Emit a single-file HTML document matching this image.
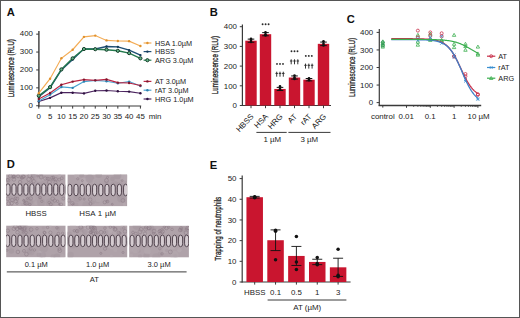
<!DOCTYPE html>
<html><head><meta charset="utf-8"><style>
html,body{margin:0;padding:0;background:#fff;}
#f{position:relative;width:520px;height:318px;overflow:hidden;background:#fff;}
svg{position:absolute;left:0;top:0;font-family:"Liberation Sans", sans-serif;}
</style></head><body><div id="f">
<svg width="520" height="318" viewBox="0 0 520 318" font-family='"Liberation Sans", sans-serif'>
<rect x="0.5" y="0.5" width="519" height="317" fill="#fff" stroke="#555" stroke-width="1"/>
<text x="6.80" y="15.80" font-size="11.2" text-anchor="start" font-weight="bold" fill="#111" >A</text>
<line x1="38.90" y1="30.90" x2="38.90" y2="106.40" stroke="#3a3a3a" stroke-width="1.4"/>
<line x1="38.00" y1="106.00" x2="141.20" y2="106.00" stroke="#3a3a3a" stroke-width="1.2"/>
<line x1="36.20" y1="105.75" x2="38.90" y2="105.75" stroke="#3a3a3a" stroke-width="1.0"/>
<text x="33.00" y="108.05" font-size="7.9" text-anchor="end" font-weight="normal" fill="#222" >0</text>
<line x1="36.20" y1="87.85" x2="38.90" y2="87.85" stroke="#3a3a3a" stroke-width="1.0"/>
<text x="33.00" y="90.15" font-size="7.9" text-anchor="end" font-weight="normal" fill="#222" >100</text>
<line x1="36.20" y1="69.95" x2="38.90" y2="69.95" stroke="#3a3a3a" stroke-width="1.0"/>
<text x="33.00" y="72.25" font-size="7.9" text-anchor="end" font-weight="normal" fill="#222" >200</text>
<line x1="36.20" y1="52.05" x2="38.90" y2="52.05" stroke="#3a3a3a" stroke-width="1.0"/>
<text x="33.00" y="54.35" font-size="7.9" text-anchor="end" font-weight="normal" fill="#222" >300</text>
<line x1="36.20" y1="34.15" x2="38.90" y2="34.15" stroke="#3a3a3a" stroke-width="1.0"/>
<text x="33.00" y="36.45" font-size="7.9" text-anchor="end" font-weight="normal" fill="#222" >400</text>
<line x1="38.80" y1="106.00" x2="38.80" y2="108.60" stroke="#3a3a3a" stroke-width="1.0"/>
<text x="38.80" y="119.20" font-size="7.9" text-anchor="middle" font-weight="normal" fill="#222" >0</text>
<line x1="50.09" y1="106.00" x2="50.09" y2="108.60" stroke="#3a3a3a" stroke-width="1.0"/>
<text x="50.09" y="119.20" font-size="7.9" text-anchor="middle" font-weight="normal" fill="#222" >5</text>
<line x1="61.38" y1="106.00" x2="61.38" y2="108.60" stroke="#3a3a3a" stroke-width="1.0"/>
<text x="61.38" y="119.20" font-size="7.9" text-anchor="middle" font-weight="normal" fill="#222" >10</text>
<line x1="72.67" y1="106.00" x2="72.67" y2="108.60" stroke="#3a3a3a" stroke-width="1.0"/>
<text x="72.67" y="119.20" font-size="7.9" text-anchor="middle" font-weight="normal" fill="#222" >15</text>
<line x1="83.96" y1="106.00" x2="83.96" y2="108.60" stroke="#3a3a3a" stroke-width="1.0"/>
<text x="83.96" y="119.20" font-size="7.9" text-anchor="middle" font-weight="normal" fill="#222" >20</text>
<line x1="95.25" y1="106.00" x2="95.25" y2="108.60" stroke="#3a3a3a" stroke-width="1.0"/>
<text x="95.25" y="119.20" font-size="7.9" text-anchor="middle" font-weight="normal" fill="#222" >25</text>
<line x1="106.54" y1="106.00" x2="106.54" y2="108.60" stroke="#3a3a3a" stroke-width="1.0"/>
<text x="106.54" y="119.20" font-size="7.9" text-anchor="middle" font-weight="normal" fill="#222" >30</text>
<line x1="117.83" y1="106.00" x2="117.83" y2="108.60" stroke="#3a3a3a" stroke-width="1.0"/>
<text x="117.83" y="119.20" font-size="7.9" text-anchor="middle" font-weight="normal" fill="#222" >35</text>
<line x1="129.12" y1="106.00" x2="129.12" y2="108.60" stroke="#3a3a3a" stroke-width="1.0"/>
<text x="129.12" y="119.20" font-size="7.9" text-anchor="middle" font-weight="normal" fill="#222" >40</text>
<line x1="140.41" y1="106.00" x2="140.41" y2="108.60" stroke="#3a3a3a" stroke-width="1.0"/>
<text x="140.41" y="119.20" font-size="7.9" text-anchor="middle" font-weight="normal" fill="#222" >45</text>
<text x="148.80" y="119.20" font-size="7.9" text-anchor="start" font-weight="normal" fill="#222" >min</text>
<text transform="translate(14.2,68.2) rotate(-90) scale(0.74,1)" font-size="8.4" stroke="#222" stroke-width="0.28" text-anchor="middle" fill="#222">Luminescence (RLU)</text>
<polyline points="38.80,101.45 50.09,97.87 61.38,92.68 72.67,92.68 83.96,93.40 95.25,90.71 106.54,90.53 117.83,91.25 129.12,91.61 140.41,93.22" fill="none" stroke="#4C2560" stroke-width="1.15"/>
<circle cx="38.80" cy="101.45" r="1.2" fill="#2E1040"/>
<circle cx="50.09" cy="97.87" r="1.2" fill="#2E1040"/>
<circle cx="61.38" cy="92.68" r="1.2" fill="#2E1040"/>
<circle cx="72.67" cy="92.68" r="1.2" fill="#2E1040"/>
<circle cx="83.96" cy="93.40" r="1.2" fill="#2E1040"/>
<circle cx="95.25" cy="90.71" r="1.2" fill="#2E1040"/>
<circle cx="106.54" cy="90.53" r="1.2" fill="#2E1040"/>
<circle cx="117.83" cy="91.25" r="1.2" fill="#2E1040"/>
<circle cx="129.12" cy="91.61" r="1.2" fill="#2E1040"/>
<circle cx="140.41" cy="93.22" r="1.2" fill="#2E1040"/>
<polyline points="38.80,101.10 50.09,94.65 61.38,86.95 72.67,87.85 83.96,81.59 95.25,80.33 106.54,81.23 117.83,83.20 129.12,81.59 140.41,86.06" fill="none" stroke="#4AA4D2" stroke-width="1.15"/>
<circle cx="38.80" cy="101.10" r="1.2" fill="#2E80AE"/>
<circle cx="50.09" cy="94.65" r="1.2" fill="#2E80AE"/>
<circle cx="61.38" cy="86.95" r="1.2" fill="#2E80AE"/>
<circle cx="72.67" cy="87.85" r="1.2" fill="#2E80AE"/>
<circle cx="83.96" cy="81.59" r="1.2" fill="#2E80AE"/>
<circle cx="95.25" cy="80.33" r="1.2" fill="#2E80AE"/>
<circle cx="106.54" cy="81.23" r="1.2" fill="#2E80AE"/>
<circle cx="117.83" cy="83.20" r="1.2" fill="#2E80AE"/>
<circle cx="129.12" cy="81.59" r="1.2" fill="#2E80AE"/>
<circle cx="140.41" cy="86.06" r="1.2" fill="#2E80AE"/>
<polyline points="38.80,98.95 50.09,93.04 61.38,84.81 72.67,81.59 83.96,79.62 95.25,80.33 106.54,79.44 117.83,82.66 129.12,83.02 140.41,85.52" fill="none" stroke="#BA2442" stroke-width="1.15"/>
<circle cx="38.80" cy="98.95" r="1.2" fill="#80162C"/>
<circle cx="50.09" cy="93.04" r="1.2" fill="#80162C"/>
<circle cx="61.38" cy="84.81" r="1.2" fill="#80162C"/>
<circle cx="72.67" cy="81.59" r="1.2" fill="#80162C"/>
<circle cx="83.96" cy="79.62" r="1.2" fill="#80162C"/>
<circle cx="95.25" cy="80.33" r="1.2" fill="#80162C"/>
<circle cx="106.54" cy="79.44" r="1.2" fill="#80162C"/>
<circle cx="117.83" cy="82.66" r="1.2" fill="#80162C"/>
<circle cx="129.12" cy="83.02" r="1.2" fill="#80162C"/>
<circle cx="140.41" cy="85.52" r="1.2" fill="#80162C"/>
<polyline points="38.80,96.80 50.09,87.85 61.38,69.95 72.67,59.57 83.96,48.83 95.25,49.01 106.54,46.50 117.83,46.86 129.12,50.08 140.41,55.09" fill="none" stroke="#1D4E74" stroke-width="1.4"/>
<circle cx="38.80" cy="96.80" r="1.2" fill="#123A5A"/>
<circle cx="50.09" cy="87.85" r="1.2" fill="#123A5A"/>
<circle cx="61.38" cy="69.95" r="1.2" fill="#123A5A"/>
<circle cx="72.67" cy="59.57" r="1.2" fill="#123A5A"/>
<circle cx="83.96" cy="48.83" r="1.2" fill="#123A5A"/>
<circle cx="95.25" cy="49.01" r="1.2" fill="#123A5A"/>
<circle cx="106.54" cy="46.50" r="1.2" fill="#123A5A"/>
<circle cx="117.83" cy="46.86" r="1.2" fill="#123A5A"/>
<circle cx="129.12" cy="50.08" r="1.2" fill="#123A5A"/>
<circle cx="140.41" cy="55.09" r="1.2" fill="#123A5A"/>
<polyline points="38.80,95.73 50.09,87.13 61.38,69.41 72.67,58.32 83.96,49.01 95.25,49.19 106.54,49.72 117.83,50.80 129.12,53.12 140.41,58.32" fill="none" stroke="#23794D" stroke-width="1.4"/>
<circle cx="38.80" cy="95.73" r="1.6" fill="#62B487" stroke="#173D2A" stroke-width="1.0"/>
<circle cx="50.09" cy="87.13" r="1.6" fill="#62B487" stroke="#173D2A" stroke-width="1.0"/>
<circle cx="61.38" cy="69.41" r="1.6" fill="#62B487" stroke="#173D2A" stroke-width="1.0"/>
<circle cx="72.67" cy="58.32" r="1.6" fill="#62B487" stroke="#173D2A" stroke-width="1.0"/>
<circle cx="83.96" cy="49.01" r="1.6" fill="#62B487" stroke="#173D2A" stroke-width="1.0"/>
<circle cx="95.25" cy="49.19" r="1.6" fill="#62B487" stroke="#173D2A" stroke-width="1.0"/>
<circle cx="106.54" cy="49.72" r="1.6" fill="#62B487" stroke="#173D2A" stroke-width="1.0"/>
<circle cx="117.83" cy="50.80" r="1.6" fill="#62B487" stroke="#173D2A" stroke-width="1.0"/>
<circle cx="129.12" cy="53.12" r="1.6" fill="#62B487" stroke="#173D2A" stroke-width="1.0"/>
<circle cx="140.41" cy="58.32" r="1.6" fill="#62B487" stroke="#173D2A" stroke-width="1.0"/>
<polyline points="38.80,93.22 50.09,78.72 61.38,58.32 72.67,49.72 83.96,36.84 95.25,35.58 106.54,40.42 117.83,40.95 129.12,41.13 140.41,45.96" fill="none" stroke="#F4AC55" stroke-width="1.15"/>
<circle cx="38.80" cy="93.22" r="1.2" fill="#E0922E"/>
<circle cx="50.09" cy="78.72" r="1.2" fill="#E0922E"/>
<circle cx="61.38" cy="58.32" r="1.2" fill="#E0922E"/>
<circle cx="72.67" cy="49.72" r="1.2" fill="#E0922E"/>
<circle cx="83.96" cy="36.84" r="1.2" fill="#E0922E"/>
<circle cx="95.25" cy="35.58" r="1.2" fill="#E0922E"/>
<circle cx="106.54" cy="40.42" r="1.2" fill="#E0922E"/>
<circle cx="117.83" cy="40.95" r="1.2" fill="#E0922E"/>
<circle cx="129.12" cy="41.13" r="1.2" fill="#E0922E"/>
<circle cx="140.41" cy="45.96" r="1.2" fill="#E0922E"/>
<line x1="143.60" y1="43.00" x2="151.40" y2="43.00" stroke="#F4AC55" stroke-width="1.2"/>
<circle cx="147.4" cy="43.0" r="1.2" fill="#E0922E"/>
<text x="155.00" y="45.60" font-size="7.3" text-anchor="start" font-weight="normal" fill="#222" >HSA 1.0µM</text>
<line x1="143.60" y1="51.60" x2="151.40" y2="51.60" stroke="#1D4E74" stroke-width="1.2"/>
<circle cx="147.4" cy="51.6" r="1.2" fill="#123A5A"/>
<text x="155.00" y="54.20" font-size="7.3" text-anchor="start" font-weight="normal" fill="#222" >HBSS</text>
<line x1="143.60" y1="60.20" x2="151.40" y2="60.20" stroke="#23794D" stroke-width="1.2"/>
<circle cx="147.4" cy="60.2" r="1.6" fill="#62B487" stroke="#173D2A" stroke-width="1.0"/>
<text x="155.00" y="62.80" font-size="7.3" text-anchor="start" font-weight="normal" fill="#222" >ARG 3.0µM</text>
<line x1="143.60" y1="81.40" x2="151.40" y2="81.40" stroke="#BA2442" stroke-width="1.2"/>
<circle cx="147.4" cy="81.4" r="1.2" fill="#80162C"/>
<text x="155.00" y="84.00" font-size="7.3" text-anchor="start" font-weight="normal" fill="#222" >AT 3.0µM</text>
<line x1="143.60" y1="90.20" x2="151.40" y2="90.20" stroke="#4AA4D2" stroke-width="1.2"/>
<circle cx="147.4" cy="90.2" r="1.2" fill="#2E80AE"/>
<text x="155.00" y="92.80" font-size="7.3" text-anchor="start" font-weight="normal" fill="#222" >rAT 3.0µM</text>
<line x1="143.60" y1="99.00" x2="151.40" y2="99.00" stroke="#4C2560" stroke-width="1.2"/>
<circle cx="147.4" cy="99.0" r="1.2" fill="#2E1040"/>
<text x="155.00" y="101.60" font-size="7.3" text-anchor="start" font-weight="normal" fill="#222" >HRG 1.0µM</text>
<text x="209.70" y="16.40" font-size="11.2" text-anchor="start" font-weight="bold" fill="#111" >B</text>
<line x1="242.40" y1="24.40" x2="242.40" y2="105.90" stroke="#3a3a3a" stroke-width="1.2"/>
<line x1="241.80" y1="105.50" x2="331.00" y2="105.50" stroke="#3a3a3a" stroke-width="1.2"/>
<line x1="239.80" y1="105.50" x2="242.40" y2="105.50" stroke="#3a3a3a" stroke-width="1.0"/>
<text x="237.00" y="108.20" font-size="7.9" text-anchor="end" font-weight="normal" fill="#222" >0</text>
<line x1="239.80" y1="85.80" x2="242.40" y2="85.80" stroke="#3a3a3a" stroke-width="1.0"/>
<text x="237.00" y="88.50" font-size="7.9" text-anchor="end" font-weight="normal" fill="#222" >100</text>
<line x1="239.80" y1="66.10" x2="242.40" y2="66.10" stroke="#3a3a3a" stroke-width="1.0"/>
<text x="237.00" y="68.80" font-size="7.9" text-anchor="end" font-weight="normal" fill="#222" >200</text>
<line x1="239.80" y1="46.40" x2="242.40" y2="46.40" stroke="#3a3a3a" stroke-width="1.0"/>
<text x="237.00" y="49.10" font-size="7.9" text-anchor="end" font-weight="normal" fill="#222" >300</text>
<line x1="239.80" y1="26.70" x2="242.40" y2="26.70" stroke="#3a3a3a" stroke-width="1.0"/>
<text x="237.00" y="29.40" font-size="7.9" text-anchor="end" font-weight="normal" fill="#222" >400</text>
<rect x="245.30" y="40.69" width="11.4" height="64.81" fill="#C9152F"/>
<line x1="251.00" y1="39.11" x2="251.00" y2="42.26" stroke="#111" stroke-width="0.9"/>
<line x1="247.70" y1="39.11" x2="254.30" y2="39.11" stroke="#111" stroke-width="1.0"/>
<line x1="247.70" y1="42.26" x2="254.30" y2="42.26" stroke="#111" stroke-width="1.0"/>
<circle cx="251.00" cy="42.07" r="1.3" fill="#111"/>
<circle cx="251.00" cy="40.10" r="1.3" fill="#111"/>
<circle cx="251.00" cy="38.91" r="1.3" fill="#111"/>
<line x1="251.00" y1="105.50" x2="251.00" y2="108.20" stroke="#3a3a3a" stroke-width="1.0"/>
<text transform="translate(254.10,116.9) rotate(-47)" font-size="7.9" text-anchor="end" fill="#222">HBSS</text>
<rect x="259.80" y="34.19" width="11.4" height="71.31" fill="#C9152F"/>
<line x1="265.50" y1="32.61" x2="265.50" y2="35.76" stroke="#111" stroke-width="0.9"/>
<line x1="262.20" y1="32.61" x2="268.80" y2="32.61" stroke="#111" stroke-width="1.0"/>
<line x1="262.20" y1="35.76" x2="268.80" y2="35.76" stroke="#111" stroke-width="1.0"/>
<circle cx="265.50" cy="35.56" r="1.3" fill="#111"/>
<circle cx="265.50" cy="34.19" r="1.3" fill="#111"/>
<circle cx="265.50" cy="32.22" r="1.3" fill="#111"/>
<line x1="265.50" y1="105.50" x2="265.50" y2="108.20" stroke="#3a3a3a" stroke-width="1.0"/>
<text transform="translate(268.60,116.9) rotate(-47)" font-size="7.9" text-anchor="end" fill="#222">HSA</text>
<rect x="274.30" y="88.95" width="11.4" height="16.55" fill="#C9152F"/>
<line x1="280.00" y1="87.38" x2="280.00" y2="90.53" stroke="#111" stroke-width="0.9"/>
<line x1="276.70" y1="87.38" x2="283.30" y2="87.38" stroke="#111" stroke-width="1.0"/>
<line x1="276.70" y1="90.53" x2="283.30" y2="90.53" stroke="#111" stroke-width="1.0"/>
<circle cx="280.00" cy="89.74" r="1.3" fill="#111"/>
<circle cx="280.00" cy="88.95" r="1.3" fill="#111"/>
<circle cx="280.00" cy="86.39" r="1.3" fill="#111"/>
<line x1="280.00" y1="105.50" x2="280.00" y2="108.20" stroke="#3a3a3a" stroke-width="1.0"/>
<text transform="translate(283.10,116.9) rotate(-47)" font-size="7.9" text-anchor="end" fill="#222">HRG</text>
<rect x="288.80" y="77.53" width="11.4" height="27.97" fill="#C9152F"/>
<line x1="294.50" y1="75.95" x2="294.50" y2="79.10" stroke="#111" stroke-width="0.9"/>
<line x1="291.20" y1="75.95" x2="297.80" y2="75.95" stroke="#111" stroke-width="1.0"/>
<line x1="291.20" y1="79.10" x2="297.80" y2="79.10" stroke="#111" stroke-width="1.0"/>
<circle cx="294.50" cy="78.91" r="1.3" fill="#111"/>
<circle cx="294.50" cy="77.53" r="1.3" fill="#111"/>
<circle cx="294.50" cy="75.56" r="1.3" fill="#111"/>
<line x1="294.50" y1="105.50" x2="294.50" y2="108.20" stroke="#3a3a3a" stroke-width="1.0"/>
<text transform="translate(297.60,116.9) rotate(-47)" font-size="7.9" text-anchor="end" fill="#222">AT</text>
<rect x="303.30" y="79.69" width="11.4" height="25.81" fill="#C9152F"/>
<line x1="309.00" y1="78.51" x2="309.00" y2="80.88" stroke="#111" stroke-width="0.9"/>
<line x1="305.70" y1="78.51" x2="312.30" y2="78.51" stroke="#111" stroke-width="1.0"/>
<line x1="305.70" y1="80.88" x2="312.30" y2="80.88" stroke="#111" stroke-width="1.0"/>
<circle cx="309.00" cy="80.28" r="1.3" fill="#111"/>
<circle cx="309.00" cy="79.69" r="1.3" fill="#111"/>
<circle cx="309.00" cy="78.31" r="1.3" fill="#111"/>
<line x1="309.00" y1="105.50" x2="309.00" y2="108.20" stroke="#3a3a3a" stroke-width="1.0"/>
<text transform="translate(312.10,116.9) rotate(-47)" font-size="7.9" text-anchor="end" fill="#222">rAT</text>
<rect x="317.80" y="43.84" width="11.4" height="61.66" fill="#C9152F"/>
<line x1="323.50" y1="42.07" x2="323.50" y2="45.61" stroke="#111" stroke-width="0.9"/>
<line x1="320.20" y1="42.07" x2="326.80" y2="42.07" stroke="#111" stroke-width="1.0"/>
<line x1="320.20" y1="45.61" x2="326.80" y2="45.61" stroke="#111" stroke-width="1.0"/>
<circle cx="323.50" cy="45.41" r="1.3" fill="#111"/>
<circle cx="323.50" cy="43.64" r="1.3" fill="#111"/>
<circle cx="323.50" cy="41.28" r="1.3" fill="#111"/>
<line x1="323.50" y1="105.50" x2="323.50" y2="108.20" stroke="#3a3a3a" stroke-width="1.0"/>
<text transform="translate(326.60,116.9) rotate(-47)" font-size="7.9" text-anchor="end" fill="#222">ARG</text>
<circle cx="262.60" cy="24.30" r="0.95" fill="#2a2a2a"/>
<circle cx="265.60" cy="24.30" r="0.95" fill="#2a2a2a"/>
<circle cx="268.60" cy="24.30" r="0.95" fill="#2a2a2a"/>
<circle cx="277.00" cy="63.90" r="0.95" fill="#2a2a2a"/>
<circle cx="280.00" cy="63.90" r="0.95" fill="#2a2a2a"/>
<circle cx="283.00" cy="63.90" r="0.95" fill="#2a2a2a"/>
<path d="M276.70,71.70V76.70M275.45,73.40H277.95" stroke="#2a2a2a" stroke-width="0.95" fill="none"/>
<path d="M280.00,71.70V76.70M278.75,73.40H281.25" stroke="#2a2a2a" stroke-width="0.95" fill="none"/>
<path d="M283.30,71.70V76.70M282.05,73.40H284.55" stroke="#2a2a2a" stroke-width="0.95" fill="none"/>
<circle cx="291.50" cy="51.30" r="0.95" fill="#2a2a2a"/>
<circle cx="294.50" cy="51.30" r="0.95" fill="#2a2a2a"/>
<circle cx="297.50" cy="51.30" r="0.95" fill="#2a2a2a"/>
<path d="M291.20,59.30V64.30M289.95,61.00H292.45" stroke="#2a2a2a" stroke-width="0.95" fill="none"/>
<path d="M294.50,59.30V64.30M293.25,61.00H295.75" stroke="#2a2a2a" stroke-width="0.95" fill="none"/>
<path d="M297.80,59.30V64.30M296.55,61.00H299.05" stroke="#2a2a2a" stroke-width="0.95" fill="none"/>
<circle cx="305.80" cy="55.90" r="0.95" fill="#2a2a2a"/>
<circle cx="308.80" cy="55.90" r="0.95" fill="#2a2a2a"/>
<circle cx="311.80" cy="55.90" r="0.95" fill="#2a2a2a"/>
<path d="M305.50,63.60V68.60M304.25,65.30H306.75" stroke="#2a2a2a" stroke-width="0.95" fill="none"/>
<path d="M308.80,63.60V68.60M307.55,65.30H310.05" stroke="#2a2a2a" stroke-width="0.95" fill="none"/>
<path d="M312.10,63.60V68.60M310.85,65.30H313.35" stroke="#2a2a2a" stroke-width="0.95" fill="none"/>
<line x1="256.40" y1="132.40" x2="286.70" y2="132.40" stroke="#3a3a3a" stroke-width="1.0"/>
<line x1="288.40" y1="132.40" x2="330.50" y2="132.40" stroke="#3a3a3a" stroke-width="1.0"/>
<text x="272.30" y="142.20" font-size="7.9" text-anchor="middle" font-weight="normal" fill="#222" >1 µM</text>
<text x="309.30" y="142.20" font-size="7.9" text-anchor="middle" font-weight="normal" fill="#222" >3 µM</text>
<text transform="translate(217.6,65.0) rotate(-90) scale(0.74,1)" font-size="8.4" stroke="#222" stroke-width="0.28" text-anchor="middle" fill="#222">Luminescence (RLU)</text>
<text x="346.80" y="22.90" font-size="11.2" text-anchor="start" font-weight="bold" fill="#111" >C</text>
<line x1="379.30" y1="29.10" x2="379.30" y2="105.80" stroke="#3a3a3a" stroke-width="1.2"/>
<line x1="378.60" y1="105.50" x2="481.20" y2="105.50" stroke="#3a3a3a" stroke-width="1.5"/>
<line x1="376.60" y1="102.60" x2="379.20" y2="102.60" stroke="#3a3a3a" stroke-width="1.0"/>
<text x="373.20" y="105.20" font-size="7.9" text-anchor="end" font-weight="normal" fill="#222" >0</text>
<line x1="376.60" y1="85.05" x2="379.20" y2="85.05" stroke="#3a3a3a" stroke-width="1.0"/>
<text x="373.20" y="87.65" font-size="7.9" text-anchor="end" font-weight="normal" fill="#222" >100</text>
<line x1="376.60" y1="67.50" x2="379.20" y2="67.50" stroke="#3a3a3a" stroke-width="1.0"/>
<text x="373.20" y="70.10" font-size="7.9" text-anchor="end" font-weight="normal" fill="#222" >200</text>
<line x1="376.60" y1="49.95" x2="379.20" y2="49.95" stroke="#3a3a3a" stroke-width="1.0"/>
<text x="373.20" y="52.55" font-size="7.9" text-anchor="end" font-weight="normal" fill="#222" >300</text>
<line x1="376.60" y1="32.40" x2="379.20" y2="32.40" stroke="#3a3a3a" stroke-width="1.0"/>
<text x="373.20" y="35.00" font-size="7.9" text-anchor="end" font-weight="normal" fill="#222" >400</text>
<line x1="382.80" y1="105.30" x2="382.80" y2="107.60" stroke="#3a3a3a" stroke-width="1.0"/>
<line x1="406.50" y1="105.30" x2="406.50" y2="107.80" stroke="#3a3a3a" stroke-width="1.0"/>
<line x1="430.30" y1="105.30" x2="430.30" y2="107.80" stroke="#3a3a3a" stroke-width="1.0"/>
<line x1="454.10" y1="105.30" x2="454.10" y2="107.80" stroke="#3a3a3a" stroke-width="1.0"/>
<line x1="477.90" y1="105.30" x2="477.90" y2="107.80" stroke="#3a3a3a" stroke-width="1.0"/>
<line x1="413.66" y1="105.30" x2="413.66" y2="106.90" stroke="#3a3a3a" stroke-width="0.8"/>
<line x1="417.86" y1="105.30" x2="417.86" y2="106.90" stroke="#3a3a3a" stroke-width="0.8"/>
<line x1="420.83" y1="105.30" x2="420.83" y2="106.90" stroke="#3a3a3a" stroke-width="0.8"/>
<line x1="423.14" y1="105.30" x2="423.14" y2="106.90" stroke="#3a3a3a" stroke-width="0.8"/>
<line x1="425.02" y1="105.30" x2="425.02" y2="106.90" stroke="#3a3a3a" stroke-width="0.8"/>
<line x1="426.61" y1="105.30" x2="426.61" y2="106.90" stroke="#3a3a3a" stroke-width="0.8"/>
<line x1="427.99" y1="105.30" x2="427.99" y2="106.90" stroke="#3a3a3a" stroke-width="0.8"/>
<line x1="429.21" y1="105.30" x2="429.21" y2="106.90" stroke="#3a3a3a" stroke-width="0.8"/>
<line x1="437.46" y1="105.30" x2="437.46" y2="106.90" stroke="#3a3a3a" stroke-width="0.8"/>
<line x1="441.66" y1="105.30" x2="441.66" y2="106.90" stroke="#3a3a3a" stroke-width="0.8"/>
<line x1="444.63" y1="105.30" x2="444.63" y2="106.90" stroke="#3a3a3a" stroke-width="0.8"/>
<line x1="446.94" y1="105.30" x2="446.94" y2="106.90" stroke="#3a3a3a" stroke-width="0.8"/>
<line x1="448.82" y1="105.30" x2="448.82" y2="106.90" stroke="#3a3a3a" stroke-width="0.8"/>
<line x1="450.41" y1="105.30" x2="450.41" y2="106.90" stroke="#3a3a3a" stroke-width="0.8"/>
<line x1="451.79" y1="105.30" x2="451.79" y2="106.90" stroke="#3a3a3a" stroke-width="0.8"/>
<line x1="453.01" y1="105.30" x2="453.01" y2="106.90" stroke="#3a3a3a" stroke-width="0.8"/>
<line x1="461.26" y1="105.30" x2="461.26" y2="106.90" stroke="#3a3a3a" stroke-width="0.8"/>
<line x1="465.46" y1="105.30" x2="465.46" y2="106.90" stroke="#3a3a3a" stroke-width="0.8"/>
<line x1="468.43" y1="105.30" x2="468.43" y2="106.90" stroke="#3a3a3a" stroke-width="0.8"/>
<line x1="470.74" y1="105.30" x2="470.74" y2="106.90" stroke="#3a3a3a" stroke-width="0.8"/>
<line x1="472.62" y1="105.30" x2="472.62" y2="106.90" stroke="#3a3a3a" stroke-width="0.8"/>
<line x1="474.21" y1="105.30" x2="474.21" y2="106.90" stroke="#3a3a3a" stroke-width="0.8"/>
<line x1="475.59" y1="105.30" x2="475.59" y2="106.90" stroke="#3a3a3a" stroke-width="0.8"/>
<line x1="476.81" y1="105.30" x2="476.81" y2="106.90" stroke="#3a3a3a" stroke-width="0.8"/>
<text x="382.80" y="118.80" font-size="7.9" text-anchor="middle" font-weight="normal" fill="#222" >control</text>
<text x="406.20" y="118.80" font-size="7.9" text-anchor="middle" font-weight="normal" fill="#222" >0.01</text>
<text x="430.20" y="118.80" font-size="7.9" text-anchor="middle" font-weight="normal" fill="#222" >0.1</text>
<text x="454.10" y="118.80" font-size="7.9" text-anchor="middle" font-weight="normal" fill="#222" >1</text>
<text x="467.60" y="118.80" font-size="7.9" text-anchor="start" font-weight="normal" fill="#222" >10 µM</text>
<text transform="translate(354.6,67.5) rotate(-90) scale(0.75,1)" font-size="8.4" stroke="#222" stroke-width="0.28" text-anchor="middle" fill="#222">Luminescence (RLU)</text>
<path d="M382.80,45.09L384.50,48.09L381.10,48.09Z" fill="none" stroke="#3AAE4E" stroke-width="0.8"/>
<path d="M382.80,43.34L384.50,46.34L381.10,46.34Z" fill="none" stroke="#3AAE4E" stroke-width="0.8"/>
<path d="M382.80,41.58L384.50,44.58L381.10,44.58Z" fill="none" stroke="#3AAE4E" stroke-width="0.8"/>
<path d="M382.80,39.83L384.50,42.83L381.10,42.83Z" fill="none" stroke="#3AAE4E" stroke-width="0.8"/>
<circle cx="382.80" cy="45.56" r="1.5" fill="none" stroke="#2E8E5A" stroke-width="0.8"/>
<circle cx="382.80" cy="42.40" r="1.5" fill="none" stroke="#2E8E5A" stroke-width="0.8"/>
<path d="M417.86,33.33L419.56,36.33L416.16,36.33Z" fill="none" stroke="#3AAE4E" stroke-width="0.8"/>
<path d="M417.86,40.18L419.56,43.18L416.16,43.18Z" fill="none" stroke="#3AAE4E" stroke-width="0.8"/>
<path d="M417.86,43.16L419.56,46.16L416.16,46.16Z" fill="none" stroke="#3AAE4E" stroke-width="0.8"/>
<circle cx="417.86" cy="30.64" r="1.5" fill="none" stroke="#C8304A" stroke-width="0.8"/>
<circle cx="417.86" cy="37.31" r="1.5" fill="none" stroke="#C8304A" stroke-width="0.8"/>
<path d="M416.46,37.14L419.26,39.94M416.46,39.94L419.26,37.14" stroke="#3A8FD0" stroke-width="0.8"/>
<path d="M416.46,38.90L419.26,41.70M416.46,41.70L419.26,38.90" stroke="#3A8FD0" stroke-width="0.8"/>
<path d="M430.30,32.10L432.00,35.10L428.60,35.10Z" fill="none" stroke="#3AAE4E" stroke-width="0.8"/>
<path d="M430.30,36.84L432.00,39.84L428.60,39.84Z" fill="none" stroke="#3AAE4E" stroke-width="0.8"/>
<path d="M430.30,38.42L432.00,41.42L428.60,41.42Z" fill="none" stroke="#3AAE4E" stroke-width="0.8"/>
<circle cx="430.30" cy="32.40" r="1.5" fill="none" stroke="#C8304A" stroke-width="0.8"/>
<circle cx="430.30" cy="35.91" r="1.5" fill="none" stroke="#C8304A" stroke-width="0.8"/>
<path d="M428.90,35.91L431.70,38.71M428.90,38.71L431.70,35.91" stroke="#3A8FD0" stroke-width="0.8"/>
<path d="M428.90,38.02L431.70,40.82M428.90,40.82L431.70,38.02" stroke="#3A8FD0" stroke-width="0.8"/>
<path d="M441.66,38.42L443.36,41.42L439.96,41.42Z" fill="none" stroke="#3AAE4E" stroke-width="0.8"/>
<path d="M441.66,39.47L443.36,42.47L439.96,42.47Z" fill="none" stroke="#3AAE4E" stroke-width="0.8"/>
<circle cx="441.66" cy="33.28" r="1.5" fill="none" stroke="#C8304A" stroke-width="0.8"/>
<circle cx="441.66" cy="36.26" r="1.5" fill="none" stroke="#C8304A" stroke-width="0.8"/>
<path d="M440.26,34.86L443.06,37.66M440.26,37.66L443.06,34.86" stroke="#3A8FD0" stroke-width="0.8"/>
<path d="M440.26,41.88L443.06,44.68M440.26,44.68L443.06,41.88" stroke="#3A8FD0" stroke-width="0.8"/>
<path d="M454.10,33.33L455.80,36.33L452.40,36.33Z" fill="none" stroke="#3AAE4E" stroke-width="0.8"/>
<path d="M454.10,42.28L455.80,45.28L452.40,45.28Z" fill="none" stroke="#3AAE4E" stroke-width="0.8"/>
<path d="M454.10,45.62L455.80,48.62L452.40,48.62Z" fill="none" stroke="#3AAE4E" stroke-width="0.8"/>
<circle cx="454.10" cy="56.09" r="1.5" fill="none" stroke="#C8304A" stroke-width="0.8"/>
<circle cx="454.10" cy="56.62" r="1.5" fill="none" stroke="#C8304A" stroke-width="0.8"/>
<path d="M452.70,53.46L455.50,56.26M452.70,56.26L455.50,53.46" stroke="#3A8FD0" stroke-width="0.8"/>
<path d="M452.70,55.92L455.50,58.72M452.70,58.72L455.50,55.92" stroke="#3A8FD0" stroke-width="0.8"/>
<path d="M465.46,42.28L467.16,45.28L463.76,45.28Z" fill="none" stroke="#3AAE4E" stroke-width="0.8"/>
<path d="M465.46,44.56L467.16,47.56L463.76,47.56Z" fill="none" stroke="#3AAE4E" stroke-width="0.8"/>
<path d="M465.46,48.25L467.16,51.25L463.76,51.25Z" fill="none" stroke="#3AAE4E" stroke-width="0.8"/>
<circle cx="465.46" cy="73.99" r="1.5" fill="none" stroke="#C8304A" stroke-width="0.8"/>
<circle cx="465.46" cy="76.27" r="1.5" fill="none" stroke="#C8304A" stroke-width="0.8"/>
<path d="M464.06,78.21L466.86,81.01M464.06,81.01L466.86,78.21" stroke="#3A8FD0" stroke-width="0.8"/>
<path d="M464.06,79.79L466.86,82.59M464.06,82.59L466.86,79.79" stroke="#3A8FD0" stroke-width="0.8"/>
<path d="M477.90,45.09L479.60,48.09L476.20,48.09Z" fill="none" stroke="#3AAE4E" stroke-width="0.8"/>
<path d="M477.90,51.94L479.60,54.94L476.20,54.94Z" fill="none" stroke="#3AAE4E" stroke-width="0.8"/>
<path d="M477.90,53.16L479.60,56.16L476.20,56.16Z" fill="none" stroke="#3AAE4E" stroke-width="0.8"/>
<circle cx="477.90" cy="94.18" r="1.5" fill="none" stroke="#C8304A" stroke-width="0.8"/>
<circle cx="477.90" cy="94.88" r="1.5" fill="none" stroke="#C8304A" stroke-width="0.8"/>
<path d="M476.50,97.34L479.30,100.14M476.50,100.14L479.30,97.34" stroke="#3A8FD0" stroke-width="0.8"/>
<path d="M476.50,98.04L479.30,100.84M476.50,100.84L479.30,98.04" stroke="#3A8FD0" stroke-width="0.8"/>
<polyline points="391.27,38.72 391.70,38.72 392.13,38.72 392.57,38.72 393.00,38.72 393.43,38.72 393.87,38.72 394.30,38.72 394.73,38.72 395.17,38.72 395.60,38.72 396.03,38.72 396.47,38.72 396.90,38.72 397.33,38.72 397.77,38.72 398.20,38.73 398.63,38.73 399.06,38.73 399.50,38.73 399.93,38.73 400.36,38.73 400.80,38.73 401.23,38.73 401.66,38.73 402.10,38.73 402.53,38.73 402.96,38.73 403.40,38.73 403.83,38.73 404.26,38.74 404.70,38.74 405.13,38.74 405.56,38.74 406.00,38.74 406.43,38.74 406.86,38.74 407.29,38.74 407.73,38.75 408.16,38.75 408.59,38.75 409.03,38.75 409.46,38.75 409.89,38.76 410.33,38.76 410.76,38.76 411.19,38.76 411.63,38.77 412.06,38.77 412.49,38.77 412.93,38.78 413.36,38.78 413.79,38.79 414.23,38.79 414.66,38.79 415.09,38.80 415.52,38.80 415.96,38.81 416.39,38.82 416.82,38.82 417.26,38.83 417.69,38.84 418.12,38.84 418.56,38.85 418.99,38.86 419.42,38.87 419.86,38.88 420.29,38.89 420.72,38.90 421.16,38.91 421.59,38.92 422.02,38.94 422.46,38.95 422.89,38.97 423.32,38.98 423.75,39.00 424.19,39.02 424.62,39.04 425.05,39.06 425.49,39.08 425.92,39.10 426.35,39.13 426.79,39.15 427.22,39.18 427.65,39.21 428.09,39.24 428.52,39.28 428.95,39.31 429.39,39.35 429.82,39.39 430.25,39.43 430.69,39.48 431.12,39.53 431.55,39.58 431.99,39.63 432.42,39.69 432.85,39.75 433.28,39.82 433.72,39.89 434.15,39.96 434.58,40.04 435.02,40.12 435.45,40.21 435.88,40.30 436.32,40.40 436.75,40.51 437.18,40.62 437.62,40.74 438.05,40.86 438.48,41.00 438.92,41.14 439.35,41.29 439.78,41.44 440.22,41.61 440.65,41.79 441.08,41.98 441.51,42.17 441.95,42.38 442.38,42.60 442.81,42.84 443.25,43.08 443.68,43.34 444.11,43.61 444.55,43.90 444.98,44.21 445.41,44.52 445.85,44.86 446.28,45.21 446.71,45.58 447.15,45.97 447.58,46.38 448.01,46.80 448.45,47.25 448.88,47.72 449.31,48.20 449.74,48.71 450.18,49.24 450.61,49.80 451.04,50.37 451.48,50.97 451.91,51.58 452.34,52.23 452.78,52.89 453.21,53.57 453.64,54.28 454.08,55.01 454.51,55.76 454.94,56.53 455.38,57.31 455.81,58.12 456.24,58.95 456.68,59.79 457.11,60.65 457.54,61.52 457.97,62.40 458.41,63.30 458.84,64.20 459.27,65.12 459.71,66.04 460.14,66.96 460.57,67.89 461.01,68.82 461.44,69.75 461.87,70.67 462.31,71.59 462.74,72.51 463.17,73.41 463.61,74.31 464.04,75.20 464.47,76.07 464.91,76.94 465.34,77.78 465.77,78.61 466.20,79.42 466.64,80.22 467.07,80.99 467.50,81.74 467.94,82.48 468.37,83.19 468.80,83.88 469.24,84.55 469.67,85.19 470.10,85.82 470.54,86.42 470.97,87.00 471.40,87.56 471.84,88.09 472.27,88.60 472.70,89.10 473.14,89.57 473.57,90.02 474.00,90.45 474.43,90.86 474.87,91.26 475.30,91.63 475.73,91.99 476.17,92.33 476.60,92.65 477.03,92.96 477.47,93.25 477.90,93.52" fill="none" stroke="#C8304A" stroke-width="1.3"/>
<polyline points="391.27,39.60 391.70,39.60 392.13,39.60 392.57,39.60 393.00,39.60 393.43,39.60 393.87,39.60 394.30,39.60 394.73,39.60 395.17,39.60 395.60,39.60 396.03,39.60 396.47,39.60 396.90,39.60 397.33,39.60 397.77,39.60 398.20,39.60 398.63,39.60 399.06,39.60 399.50,39.60 399.93,39.60 400.36,39.60 400.80,39.60 401.23,39.60 401.66,39.61 402.10,39.61 402.53,39.61 402.96,39.61 403.40,39.61 403.83,39.61 404.26,39.61 404.70,39.61 405.13,39.61 405.56,39.61 406.00,39.61 406.43,39.62 406.86,39.62 407.29,39.62 407.73,39.62 408.16,39.62 408.59,39.62 409.03,39.62 409.46,39.63 409.89,39.63 410.33,39.63 410.76,39.63 411.19,39.64 411.63,39.64 412.06,39.64 412.49,39.64 412.93,39.65 413.36,39.65 413.79,39.65 414.23,39.66 414.66,39.66 415.09,39.67 415.52,39.67 415.96,39.68 416.39,39.68 416.82,39.69 417.26,39.69 417.69,39.70 418.12,39.70 418.56,39.71 418.99,39.72 419.42,39.73 419.86,39.74 420.29,39.75 420.72,39.75 421.16,39.77 421.59,39.78 422.02,39.79 422.46,39.80 422.89,39.81 423.32,39.83 423.75,39.84 424.19,39.86 424.62,39.88 425.05,39.89 425.49,39.91 425.92,39.93 426.35,39.96 426.79,39.98 427.22,40.00 427.65,40.03 428.09,40.06 428.52,40.09 428.95,40.12 429.39,40.15 429.82,40.19 430.25,40.23 430.69,40.27 431.12,40.31 431.55,40.36 431.99,40.40 432.42,40.46 432.85,40.51 433.28,40.57 433.72,40.63 434.15,40.70 434.58,40.77 435.02,40.84 435.45,40.92 435.88,41.01 436.32,41.10 436.75,41.19 437.18,41.29 437.62,41.40 438.05,41.51 438.48,41.63 438.92,41.76 439.35,41.90 439.78,42.04 440.22,42.19 440.65,42.35 441.08,42.52 441.51,42.70 441.95,42.90 442.38,43.10 442.81,43.31 443.25,43.54 443.68,43.78 444.11,44.03 444.55,44.30 444.98,44.58 445.41,44.88 445.85,45.19 446.28,45.52 446.71,45.86 447.15,46.23 447.58,46.61 448.01,47.02 448.45,47.44 448.88,47.88 449.31,48.35 449.74,48.83 450.18,49.34 450.61,49.87 451.04,50.43 451.48,51.01 451.91,51.61 452.34,52.23 452.78,52.88 453.21,53.56 453.64,54.26 454.08,54.98 454.51,55.73 454.94,56.50 455.38,57.30 455.81,58.12 456.24,58.96 456.68,59.82 457.11,60.70 457.54,61.60 457.97,62.52 458.41,63.46 458.84,64.41 459.27,65.38 459.71,66.35 460.14,67.34 460.57,68.34 461.01,69.34 461.44,70.35 461.87,71.36 462.31,72.38 462.74,73.39 463.17,74.39 463.61,75.40 464.04,76.39 464.47,77.38 464.91,78.36 465.34,79.32 465.77,80.27 466.20,81.20 466.64,82.12 467.07,83.02 467.50,83.90 467.94,84.76 468.37,85.59 468.80,86.41 469.24,87.20 469.67,87.97 470.10,88.72 470.54,89.44 470.97,90.13 471.40,90.81 471.84,91.45 472.27,92.08 472.70,92.67 473.14,93.25 473.57,93.80 474.00,94.33 474.43,94.83 474.87,95.32 475.30,95.78 475.73,96.22 476.17,96.64 476.60,97.04 477.03,97.42 477.47,97.78 477.90,98.13" fill="none" stroke="#3F80C8" stroke-width="1.3"/>
<polyline points="391.27,39.42 391.70,39.42 392.13,39.42 392.57,39.42 393.00,39.42 393.43,39.42 393.87,39.42 394.30,39.42 394.73,39.42 395.17,39.42 395.60,39.42 396.03,39.42 396.47,39.42 396.90,39.42 397.33,39.42 397.77,39.42 398.20,39.42 398.63,39.42 399.06,39.42 399.50,39.42 399.93,39.42 400.36,39.42 400.80,39.42 401.23,39.42 401.66,39.42 402.10,39.42 402.53,39.42 402.96,39.43 403.40,39.43 403.83,39.43 404.26,39.43 404.70,39.43 405.13,39.43 405.56,39.43 406.00,39.43 406.43,39.43 406.86,39.43 407.29,39.43 407.73,39.43 408.16,39.43 408.59,39.43 409.03,39.43 409.46,39.43 409.89,39.43 410.33,39.43 410.76,39.43 411.19,39.43 411.63,39.43 412.06,39.44 412.49,39.44 412.93,39.44 413.36,39.44 413.79,39.44 414.23,39.44 414.66,39.44 415.09,39.44 415.52,39.44 415.96,39.44 416.39,39.45 416.82,39.45 417.26,39.45 417.69,39.45 418.12,39.45 418.56,39.45 418.99,39.46 419.42,39.46 419.86,39.46 420.29,39.46 420.72,39.46 421.16,39.47 421.59,39.47 422.02,39.47 422.46,39.47 422.89,39.48 423.32,39.48 423.75,39.48 424.19,39.49 424.62,39.49 425.05,39.50 425.49,39.50 425.92,39.50 426.35,39.51 426.79,39.51 427.22,39.52 427.65,39.52 428.09,39.53 428.52,39.53 428.95,39.54 429.39,39.55 429.82,39.55 430.25,39.56 430.69,39.57 431.12,39.58 431.55,39.59 431.99,39.59 432.42,39.60 432.85,39.61 433.28,39.62 433.72,39.63 434.15,39.65 434.58,39.66 435.02,39.67 435.45,39.68 435.88,39.70 436.32,39.71 436.75,39.73 437.18,39.75 437.62,39.76 438.05,39.78 438.48,39.80 438.92,39.82 439.35,39.84 439.78,39.86 440.22,39.89 440.65,39.91 441.08,39.94 441.51,39.97 441.95,39.99 442.38,40.03 442.81,40.06 443.25,40.09 443.68,40.13 444.11,40.16 444.55,40.20 444.98,40.24 445.41,40.28 445.85,40.33 446.28,40.37 446.71,40.42 447.15,40.48 447.58,40.53 448.01,40.59 448.45,40.65 448.88,40.71 449.31,40.77 449.74,40.84 450.18,40.91 450.61,40.99 451.04,41.06 451.48,41.14 451.91,41.23 452.34,41.32 452.78,41.41 453.21,41.51 453.64,41.61 454.08,41.71 454.51,41.82 454.94,41.93 455.38,42.05 455.81,42.17 456.24,42.30 456.68,42.43 457.11,42.57 457.54,42.71 457.97,42.86 458.41,43.01 458.84,43.16 459.27,43.33 459.71,43.49 460.14,43.67 460.57,43.84 461.01,44.03 461.44,44.21 461.87,44.41 462.31,44.60 462.74,44.81 463.17,45.01 463.61,45.23 464.04,45.44 464.47,45.66 464.91,45.89 465.34,46.12 465.77,46.35 466.20,46.59 466.64,46.83 467.07,47.07 467.50,47.31 467.94,47.56 468.37,47.81 468.80,48.06 469.24,48.32 469.67,48.57 470.10,48.82 470.54,49.08 470.97,49.33 471.40,49.59 471.84,49.84 472.27,50.09 472.70,50.34 473.14,50.59 473.57,50.84 474.00,51.09 474.43,51.33 474.87,51.57 475.30,51.80 475.73,52.04 476.17,52.27 476.60,52.49 477.03,52.71 477.47,52.93 477.90,53.14" fill="none" stroke="#3AAE4E" stroke-width="1.2"/>
<line x1="487.00" y1="56.20" x2="495.30" y2="56.20" stroke="#C8304A" stroke-width="1.2"/>
<circle cx="491.20" cy="56.20" r="1.5" fill="none" stroke="#C8304A" stroke-width="0.8"/>
<text x="498.30" y="58.80" font-size="7.3" text-anchor="start" font-weight="normal" fill="#222" >AT</text>
<line x1="487.00" y1="67.50" x2="495.30" y2="67.50" stroke="#3A8FD0" stroke-width="1.2"/>
<path d="M489.80,66.10L492.60,68.90M489.80,68.90L492.60,66.10" stroke="#3A8FD0" stroke-width="0.8"/>
<text x="498.30" y="70.10" font-size="7.3" text-anchor="start" font-weight="normal" fill="#222" >rAT</text>
<line x1="487.00" y1="78.20" x2="495.30" y2="78.20" stroke="#3AAE4E" stroke-width="1.2"/>
<path d="M491.20,76.50L492.90,79.50L489.50,79.50Z" fill="none" stroke="#3AAE4E" stroke-width="0.8"/>
<text x="498.30" y="80.80" font-size="7.3" text-anchor="start" font-weight="normal" fill="#222" >ARG</text>
<text x="6.70" y="168.30" font-size="11.2" text-anchor="start" font-weight="bold" fill="#111" >D</text>
<clipPath id="cp1"><rect x="6.2" y="174.5" width="59.2" height="31.5"/></clipPath>
<rect x="6.2" y="174.5" width="59.2" height="31.5" fill="#AFA2A9"/>
<g clip-path="url(#cp1)">
<circle cx="14.15" cy="201.19" r="3.79" fill="#B4A8AF" opacity="0.6"/>
<circle cx="13.18" cy="198.47" r="2.92" fill="#A79AA2" opacity="0.6"/>
<circle cx="52.89" cy="177.46" r="1.59" fill="#A79AA2" opacity="0.6"/>
<circle cx="31.82" cy="198.51" r="1.51" fill="#A79AA2" opacity="0.6"/>
<circle cx="21.97" cy="199.76" r="3.27" fill="#B8ACB3" opacity="0.6"/>
<circle cx="59.56" cy="175.46" r="1.58" fill="#B8ACB3" opacity="0.6"/>
<circle cx="61.80" cy="186.51" r="2.15" fill="#A79AA2" opacity="0.6"/>
<circle cx="49.17" cy="191.12" r="3.79" fill="#A79AA2" opacity="0.6"/>
<circle cx="38.93" cy="185.39" r="3.53" fill="#A79AA2" opacity="0.6"/>
<circle cx="62.57" cy="203.68" r="2.75" fill="#B8ACB3" opacity="0.6"/>
<circle cx="17.21" cy="205.77" r="4.08" fill="#B8ACB3" opacity="0.6"/>
<circle cx="50.19" cy="202.71" r="4.42" fill="#A79AA2" opacity="0.6"/>
<circle cx="36.26" cy="203.17" r="2.07" fill="#B4A8AF" opacity="0.6"/>
<circle cx="40.98" cy="202.30" r="4.04" fill="#A79AA2" opacity="0.6"/>
<circle cx="41.07" cy="175.59" r="2.23" fill="#A79AA2" opacity="0.6"/>
<circle cx="30.73" cy="179.95" r="3.15" fill="#B4A8AF" opacity="0.6"/>
<circle cx="11.32" cy="195.41" r="1.82" fill="#A3969E" opacity="0.6"/>
<circle cx="37.04" cy="186.89" r="2.97" fill="#B8ACB3" opacity="0.6"/>
<circle cx="33.98" cy="184.22" r="4.04" fill="#A79AA2" opacity="0.6"/>
<circle cx="44.51" cy="179.81" r="2.18" fill="#B8ACB3" opacity="0.6"/>
<circle cx="51.81" cy="191.50" r="4.08" fill="#A3969E" opacity="0.6"/>
<circle cx="30.14" cy="185.33" r="4.04" fill="#B4A8AF" opacity="0.6"/>
<circle cx="33.38" cy="182.98" r="3.14" fill="#B8ACB3" opacity="0.6"/>
<circle cx="28.91" cy="201.49" r="4.36" fill="#A3969E" opacity="0.6"/>
<circle cx="36.91" cy="192.18" r="2.78" fill="#B8ACB3" opacity="0.6"/>
<circle cx="34.68" cy="185.99" r="3.16" fill="#A79AA2" opacity="0.6"/>
<circle cx="34.91" cy="185.74" r="2.54" fill="#B4A8AF" opacity="0.6"/>
<circle cx="33.32" cy="175.38" r="2.19" fill="#A3969E" opacity="0.6"/>
<circle cx="38.80" cy="180.19" r="1.77" fill="#B4A8AF" opacity="0.6"/>
<circle cx="8.12" cy="204.22" r="1.71" fill="#B8ACB3" opacity="0.6"/>
<circle cx="33.02" cy="198.26" r="2.34" fill="#B4A8AF" opacity="0.6"/>
<circle cx="12.68" cy="194.18" r="2.53" fill="#B8ACB3" opacity="0.6"/>
<circle cx="16.11" cy="182.54" r="4.36" fill="#B4A8AF" opacity="0.6"/>
<circle cx="44.57" cy="183.78" r="3.61" fill="#A79AA2" opacity="0.6"/>
<circle cx="34.25" cy="175.24" r="2.66" fill="#A79AA2" opacity="0.6"/>
<circle cx="53.34" cy="177.31" r="1.18" fill="none" stroke="#8A7B85" stroke-width="0.5"/>
<circle cx="49.43" cy="182.34" r="1.96" fill="none" stroke="#8A7B85" stroke-width="0.5"/>
<circle cx="31.75" cy="182.33" r="1.15" fill="none" stroke="#8A7B85" stroke-width="0.5"/>
<circle cx="29.72" cy="175.75" r="1.96" fill="none" stroke="#8A7B85" stroke-width="0.5"/>
<circle cx="32.58" cy="179.04" r="1.37" fill="none" stroke="#8A7B85" stroke-width="0.5"/>
<circle cx="55.47" cy="182.34" r="1.59" fill="none" stroke="#8A7B85" stroke-width="0.5"/>
<circle cx="47.35" cy="178.66" r="1.48" fill="none" stroke="#8A7B85" stroke-width="0.5"/>
<circle cx="8.02" cy="180.22" r="1.78" fill="none" stroke="#8A7B85" stroke-width="0.5"/>
<circle cx="45.26" cy="178.48" r="1.71" fill="none" stroke="#8A7B85" stroke-width="0.5"/>
<circle cx="13.64" cy="176.98" r="0.95" fill="none" stroke="#8A7B85" stroke-width="0.5"/>
<circle cx="10.39" cy="176.04" r="1.91" fill="none" stroke="#8A7B85" stroke-width="0.5"/>
<circle cx="23.83" cy="176.61" r="1.52" fill="none" stroke="#8A7B85" stroke-width="0.5"/>
<circle cx="13.92" cy="179.43" r="1.84" fill="none" stroke="#8A7B85" stroke-width="0.5"/>
<circle cx="41.16" cy="177.02" r="1.89" fill="none" stroke="#8A7B85" stroke-width="0.5"/>
<circle cx="33.48" cy="181.30" r="1.86" fill="none" stroke="#8A7B85" stroke-width="0.5"/>
<circle cx="52.38" cy="179.86" r="0.94" fill="none" stroke="#8A7B85" stroke-width="0.5"/>
<circle cx="18.06" cy="176.19" r="1.53" fill="none" stroke="#8A7B85" stroke-width="0.5"/>
<circle cx="59.28" cy="179.64" r="1.44" fill="none" stroke="#8A7B85" stroke-width="0.5"/>
<circle cx="61.73" cy="178.23" r="1.45" fill="none" stroke="#8A7B85" stroke-width="0.5"/>
<circle cx="7.22" cy="179.78" r="1.34" fill="none" stroke="#8A7B85" stroke-width="0.5"/>
<circle cx="22.86" cy="176.60" r="1.84" fill="none" stroke="#8A7B85" stroke-width="0.5"/>
<circle cx="54.22" cy="179.44" r="1.05" fill="none" stroke="#8A7B85" stroke-width="0.5"/>
<circle cx="31.61" cy="177.37" r="1.01" fill="none" stroke="#8A7B85" stroke-width="0.5"/>
<circle cx="28.65" cy="179.33" r="1.91" fill="none" stroke="#8A7B85" stroke-width="0.5"/>
<circle cx="55.79" cy="179.24" r="1.74" fill="none" stroke="#8A7B85" stroke-width="0.5"/>
<circle cx="37.73" cy="175.96" r="0.94" fill="none" stroke="#8A7B85" stroke-width="0.5"/>
<circle cx="14.07" cy="176.67" r="1.49" fill="none" stroke="#8A7B85" stroke-width="0.5"/>
<circle cx="22.07" cy="177.83" r="1.46" fill="none" stroke="#8A7B85" stroke-width="0.5"/>
<circle cx="21.31" cy="177.87" r="1.03" fill="none" stroke="#8A7B85" stroke-width="0.5"/>
<circle cx="20.12" cy="182.11" r="1.76" fill="none" stroke="#8A7B85" stroke-width="0.5"/>
<circle cx="48.53" cy="178.92" r="1.54" fill="none" stroke="#8A7B85" stroke-width="0.5"/>
<circle cx="51.80" cy="177.75" r="1.35" fill="none" stroke="#8A7B85" stroke-width="0.5"/>
<circle cx="28.71" cy="182.44" r="1.06" fill="none" stroke="#8A7B85" stroke-width="0.5"/>
<circle cx="13.60" cy="176.30" r="1.55" fill="none" stroke="#8A7B85" stroke-width="0.5"/>
<circle cx="61.03" cy="204.39" r="1.51" fill="none" stroke="#8A7B85" stroke-width="0.5"/>
<circle cx="39.71" cy="197.38" r="1.30" fill="none" stroke="#8A7B85" stroke-width="0.5"/>
<circle cx="23.70" cy="200.73" r="1.03" fill="none" stroke="#8A7B85" stroke-width="0.5"/>
<circle cx="59.29" cy="204.14" r="0.95" fill="none" stroke="#8A7B85" stroke-width="0.5"/>
<circle cx="23.71" cy="200.09" r="0.92" fill="none" stroke="#8A7B85" stroke-width="0.5"/>
<circle cx="30.68" cy="198.39" r="1.77" fill="none" stroke="#8A7B85" stroke-width="0.5"/>
<circle cx="17.32" cy="198.72" r="1.55" fill="none" stroke="#8A7B85" stroke-width="0.5"/>
<circle cx="15.79" cy="201.39" r="1.65" fill="none" stroke="#8A7B85" stroke-width="0.5"/>
<circle cx="15.61" cy="198.24" r="1.38" fill="none" stroke="#8A7B85" stroke-width="0.5"/>
<circle cx="63.31" cy="198.55" r="1.50" fill="none" stroke="#8A7B85" stroke-width="0.5"/>
<circle cx="54.65" cy="200.60" r="1.68" fill="none" stroke="#8A7B85" stroke-width="0.5"/>
<circle cx="24.82" cy="203.34" r="1.25" fill="none" stroke="#8A7B85" stroke-width="0.5"/>
<circle cx="7.81" cy="198.71" r="1.92" fill="none" stroke="#8A7B85" stroke-width="0.5"/>
<circle cx="49.21" cy="202.44" r="1.33" fill="none" stroke="#8A7B85" stroke-width="0.5"/>
<circle cx="29.79" cy="204.49" r="1.25" fill="none" stroke="#8A7B85" stroke-width="0.5"/>
<circle cx="41.81" cy="201.35" r="1.18" fill="none" stroke="#8A7B85" stroke-width="0.5"/>
<circle cx="52.68" cy="198.78" r="1.88" fill="none" stroke="#8A7B85" stroke-width="0.5"/>
<circle cx="57.56" cy="201.25" r="1.29" fill="none" stroke="#8A7B85" stroke-width="0.5"/>
<circle cx="17.05" cy="203.34" r="1.12" fill="none" stroke="#8A7B85" stroke-width="0.5"/>
<circle cx="27.54" cy="198.44" r="1.00" fill="none" stroke="#8A7B85" stroke-width="0.5"/>
<circle cx="50.79" cy="204.28" r="1.53" fill="none" stroke="#8A7B85" stroke-width="0.5"/>
<circle cx="26.26" cy="203.18" r="1.96" fill="none" stroke="#8A7B85" stroke-width="0.5"/>
<circle cx="8.63" cy="203.51" r="1.77" fill="none" stroke="#8A7B85" stroke-width="0.5"/>
<circle cx="40.48" cy="197.63" r="1.17" fill="none" stroke="#8A7B85" stroke-width="0.5"/>
<circle cx="12.18" cy="200.11" r="1.79" fill="none" stroke="#8A7B85" stroke-width="0.5"/>
<circle cx="11.65" cy="203.24" r="1.79" fill="none" stroke="#8A7B85" stroke-width="0.5"/>
<rect x="-0.02" y="183.80" width="4.1" height="11.6" rx="2.05" ry="2.9" fill="#D6CDD2" stroke="#544751" stroke-width="1.0"/>
<rect x="5.95" y="183.80" width="4.1" height="11.6" rx="2.05" ry="2.9" fill="#D6CDD2" stroke="#544751" stroke-width="1.0"/>
<rect x="11.92" y="183.80" width="4.1" height="11.6" rx="2.05" ry="2.9" fill="#D6CDD2" stroke="#544751" stroke-width="1.0"/>
<rect x="17.89" y="183.80" width="4.1" height="11.6" rx="2.05" ry="2.9" fill="#D6CDD2" stroke="#544751" stroke-width="1.0"/>
<rect x="23.86" y="183.80" width="4.1" height="11.6" rx="2.05" ry="2.9" fill="#D6CDD2" stroke="#544751" stroke-width="1.0"/>
<rect x="29.83" y="183.80" width="4.1" height="11.6" rx="2.05" ry="2.9" fill="#D6CDD2" stroke="#544751" stroke-width="1.0"/>
<rect x="35.80" y="183.80" width="4.1" height="11.6" rx="2.05" ry="2.9" fill="#D6CDD2" stroke="#544751" stroke-width="1.0"/>
<rect x="41.77" y="183.80" width="4.1" height="11.6" rx="2.05" ry="2.9" fill="#D6CDD2" stroke="#544751" stroke-width="1.0"/>
<rect x="47.74" y="183.80" width="4.1" height="11.6" rx="2.05" ry="2.9" fill="#D6CDD2" stroke="#544751" stroke-width="1.0"/>
<rect x="53.71" y="183.80" width="4.1" height="11.6" rx="2.05" ry="2.9" fill="#D6CDD2" stroke="#544751" stroke-width="1.0"/>
<rect x="59.68" y="183.80" width="4.1" height="11.6" rx="2.05" ry="2.9" fill="#D6CDD2" stroke="#544751" stroke-width="1.0"/>
<rect x="65.65" y="183.80" width="4.1" height="11.6" rx="2.05" ry="2.9" fill="#D6CDD2" stroke="#544751" stroke-width="1.0"/>
</g>
<clipPath id="cp2"><rect x="67.6" y="174.6" width="59.5" height="31.5"/></clipPath>
<rect x="67.6" y="174.6" width="59.5" height="31.5" fill="#AFA2A9"/>
<g clip-path="url(#cp2)">
<circle cx="124.48" cy="204.46" r="1.67" fill="#B8ACB3" opacity="0.6"/>
<circle cx="89.08" cy="179.93" r="3.93" fill="#B4A8AF" opacity="0.6"/>
<circle cx="82.57" cy="181.28" r="1.61" fill="#A3969E" opacity="0.6"/>
<circle cx="127.08" cy="194.71" r="3.91" fill="#B4A8AF" opacity="0.6"/>
<circle cx="99.98" cy="188.61" r="2.30" fill="#B8ACB3" opacity="0.6"/>
<circle cx="119.43" cy="186.07" r="4.30" fill="#A79AA2" opacity="0.6"/>
<circle cx="92.80" cy="202.45" r="1.99" fill="#A3969E" opacity="0.6"/>
<circle cx="81.65" cy="175.35" r="2.48" fill="#A3969E" opacity="0.6"/>
<circle cx="97.95" cy="185.93" r="3.04" fill="#A3969E" opacity="0.6"/>
<circle cx="126.81" cy="188.64" r="2.74" fill="#B4A8AF" opacity="0.6"/>
<circle cx="114.59" cy="185.74" r="4.44" fill="#A79AA2" opacity="0.6"/>
<circle cx="77.19" cy="198.35" r="3.65" fill="#A79AA2" opacity="0.6"/>
<circle cx="106.57" cy="182.47" r="2.34" fill="#A79AA2" opacity="0.6"/>
<circle cx="97.40" cy="200.79" r="2.56" fill="#A79AA2" opacity="0.6"/>
<circle cx="121.13" cy="189.12" r="3.20" fill="#A79AA2" opacity="0.6"/>
<circle cx="96.55" cy="181.59" r="2.47" fill="#A3969E" opacity="0.6"/>
<circle cx="119.76" cy="194.01" r="3.82" fill="#A79AA2" opacity="0.6"/>
<circle cx="86.02" cy="204.76" r="3.62" fill="#A79AA2" opacity="0.6"/>
<circle cx="86.15" cy="181.15" r="3.04" fill="#B8ACB3" opacity="0.6"/>
<circle cx="114.26" cy="185.36" r="1.53" fill="#A3969E" opacity="0.6"/>
<circle cx="126.93" cy="177.94" r="3.22" fill="#B8ACB3" opacity="0.6"/>
<circle cx="83.85" cy="181.74" r="4.13" fill="#B8ACB3" opacity="0.6"/>
<circle cx="112.49" cy="178.90" r="2.30" fill="#A3969E" opacity="0.6"/>
<circle cx="123.74" cy="176.50" r="4.19" fill="#B8ACB3" opacity="0.6"/>
<circle cx="70.98" cy="185.95" r="2.25" fill="#B8ACB3" opacity="0.6"/>
<circle cx="72.53" cy="204.67" r="1.58" fill="#B8ACB3" opacity="0.6"/>
<circle cx="89.80" cy="178.63" r="4.31" fill="#A3969E" opacity="0.6"/>
<circle cx="98.72" cy="174.66" r="3.27" fill="#A3969E" opacity="0.6"/>
<circle cx="76.61" cy="175.74" r="2.53" fill="#B8ACB3" opacity="0.6"/>
<circle cx="84.62" cy="190.00" r="2.43" fill="#B8ACB3" opacity="0.6"/>
<circle cx="121.27" cy="198.40" r="4.09" fill="#A3969E" opacity="0.6"/>
<circle cx="95.73" cy="181.70" r="3.48" fill="#B4A8AF" opacity="0.6"/>
<circle cx="117.48" cy="175.36" r="3.87" fill="#A3969E" opacity="0.6"/>
<circle cx="98.44" cy="199.20" r="2.96" fill="#B4A8AF" opacity="0.6"/>
<circle cx="76.16" cy="204.83" r="2.28" fill="#A79AA2" opacity="0.6"/>
<circle cx="106.47" cy="180.50" r="1.95" fill="none" stroke="#8A7B85" stroke-width="0.5"/>
<circle cx="107.50" cy="177.37" r="1.04" fill="none" stroke="#8A7B85" stroke-width="0.5"/>
<circle cx="77.76" cy="178.77" r="1.15" fill="none" stroke="#8A7B85" stroke-width="0.5"/>
<circle cx="122.13" cy="180.56" r="0.93" fill="none" stroke="#8A7B85" stroke-width="0.5"/>
<circle cx="82.28" cy="180.60" r="0.98" fill="none" stroke="#8A7B85" stroke-width="0.5"/>
<circle cx="72.39" cy="203.27" r="1.77" fill="none" stroke="#8A7B85" stroke-width="0.5"/>
<circle cx="104.72" cy="202.22" r="1.65" fill="none" stroke="#8A7B85" stroke-width="0.5"/>
<circle cx="84.18" cy="199.09" r="1.07" fill="none" stroke="#8A7B85" stroke-width="0.5"/>
<circle cx="90.49" cy="203.82" r="1.46" fill="none" stroke="#8A7B85" stroke-width="0.5"/>
<circle cx="72.83" cy="204.28" r="0.92" fill="none" stroke="#8A7B85" stroke-width="0.5"/>
<circle cx="112.26" cy="204.26" r="0.93" fill="none" stroke="#8A7B85" stroke-width="0.5"/>
<circle cx="107.43" cy="201.47" r="1.49" fill="none" stroke="#8A7B85" stroke-width="0.5"/>
<circle cx="90.21" cy="199.62" r="1.74" fill="none" stroke="#8A7B85" stroke-width="0.5"/>
<circle cx="80.10" cy="198.65" r="1.37" fill="none" stroke="#8A7B85" stroke-width="0.5"/>
<circle cx="68.87" cy="200.37" r="1.87" fill="none" stroke="#8A7B85" stroke-width="0.5"/>
<circle cx="122.87" cy="200.45" r="1.91" fill="none" stroke="#8A7B85" stroke-width="0.5"/>
<circle cx="107.07" cy="201.26" r="0.92" fill="none" stroke="#8A7B85" stroke-width="0.5"/>
<rect x="61.55" y="184.20" width="4.1" height="11.6" rx="2.05" ry="2.9" fill="#D6CDD2" stroke="#544751" stroke-width="1.0"/>
<rect x="67.75" y="184.20" width="4.1" height="11.6" rx="2.05" ry="2.9" fill="#D6CDD2" stroke="#544751" stroke-width="1.0"/>
<rect x="73.95" y="184.20" width="4.1" height="11.6" rx="2.05" ry="2.9" fill="#D6CDD2" stroke="#544751" stroke-width="1.0"/>
<rect x="80.15" y="184.20" width="4.1" height="11.6" rx="2.05" ry="2.9" fill="#D6CDD2" stroke="#544751" stroke-width="1.0"/>
<rect x="86.35" y="184.20" width="4.1" height="11.6" rx="2.05" ry="2.9" fill="#D6CDD2" stroke="#544751" stroke-width="1.0"/>
<rect x="92.55" y="184.20" width="4.1" height="11.6" rx="2.05" ry="2.9" fill="#D6CDD2" stroke="#544751" stroke-width="1.0"/>
<rect x="98.75" y="184.20" width="4.1" height="11.6" rx="2.05" ry="2.9" fill="#D6CDD2" stroke="#544751" stroke-width="1.0"/>
<rect x="104.95" y="184.20" width="4.1" height="11.6" rx="2.05" ry="2.9" fill="#D6CDD2" stroke="#544751" stroke-width="1.0"/>
<rect x="111.15" y="184.20" width="4.1" height="11.6" rx="2.05" ry="2.9" fill="#D6CDD2" stroke="#544751" stroke-width="1.0"/>
<rect x="117.35" y="184.20" width="4.1" height="11.6" rx="2.05" ry="2.9" fill="#D6CDD2" stroke="#544751" stroke-width="1.0"/>
<rect x="123.55" y="184.20" width="4.1" height="11.6" rx="2.05" ry="2.9" fill="#D6CDD2" stroke="#544751" stroke-width="1.0"/>
<rect x="129.75" y="184.20" width="4.1" height="11.6" rx="2.05" ry="2.9" fill="#D6CDD2" stroke="#544751" stroke-width="1.0"/>
</g>
<clipPath id="cp3"><rect x="6.2" y="225.7" width="59.3" height="31.5"/></clipPath>
<rect x="6.2" y="225.7" width="59.3" height="31.5" fill="#AFA2A9"/>
<g clip-path="url(#cp3)">
<circle cx="20.31" cy="242.84" r="2.61" fill="#A79AA2" opacity="0.6"/>
<circle cx="43.31" cy="227.76" r="1.54" fill="#A79AA2" opacity="0.6"/>
<circle cx="21.58" cy="233.08" r="4.49" fill="#A79AA2" opacity="0.6"/>
<circle cx="38.28" cy="243.01" r="2.69" fill="#A3969E" opacity="0.6"/>
<circle cx="19.95" cy="230.48" r="4.28" fill="#A79AA2" opacity="0.6"/>
<circle cx="50.16" cy="246.85" r="1.69" fill="#B8ACB3" opacity="0.6"/>
<circle cx="24.07" cy="226.68" r="4.10" fill="#A79AA2" opacity="0.6"/>
<circle cx="41.47" cy="254.68" r="2.66" fill="#A79AA2" opacity="0.6"/>
<circle cx="29.62" cy="250.93" r="2.83" fill="#A3969E" opacity="0.6"/>
<circle cx="58.32" cy="228.77" r="1.91" fill="#A3969E" opacity="0.6"/>
<circle cx="21.50" cy="246.87" r="3.84" fill="#B4A8AF" opacity="0.6"/>
<circle cx="31.17" cy="251.95" r="3.22" fill="#A79AA2" opacity="0.6"/>
<circle cx="40.85" cy="254.18" r="3.55" fill="#B8ACB3" opacity="0.6"/>
<circle cx="56.98" cy="256.92" r="3.51" fill="#A3969E" opacity="0.6"/>
<circle cx="47.63" cy="235.98" r="3.13" fill="#B8ACB3" opacity="0.6"/>
<circle cx="48.53" cy="232.35" r="3.99" fill="#B4A8AF" opacity="0.6"/>
<circle cx="23.10" cy="227.70" r="4.06" fill="#A79AA2" opacity="0.6"/>
<circle cx="11.45" cy="250.92" r="2.73" fill="#A3969E" opacity="0.6"/>
<circle cx="7.39" cy="239.15" r="2.75" fill="#B8ACB3" opacity="0.6"/>
<circle cx="8.82" cy="245.06" r="1.63" fill="#B4A8AF" opacity="0.6"/>
<circle cx="38.87" cy="254.74" r="2.34" fill="#A3969E" opacity="0.6"/>
<circle cx="65.41" cy="235.45" r="1.73" fill="#B8ACB3" opacity="0.6"/>
<circle cx="62.47" cy="256.30" r="2.37" fill="#B4A8AF" opacity="0.6"/>
<circle cx="15.46" cy="227.04" r="4.10" fill="#B4A8AF" opacity="0.6"/>
<circle cx="27.56" cy="230.06" r="4.09" fill="#A79AA2" opacity="0.6"/>
<circle cx="33.50" cy="242.08" r="3.43" fill="#B8ACB3" opacity="0.6"/>
<circle cx="42.97" cy="255.33" r="3.02" fill="#A79AA2" opacity="0.6"/>
<circle cx="43.81" cy="248.24" r="4.31" fill="#A79AA2" opacity="0.6"/>
<circle cx="64.18" cy="242.12" r="3.15" fill="#B8ACB3" opacity="0.6"/>
<circle cx="52.95" cy="256.80" r="2.44" fill="#A79AA2" opacity="0.6"/>
<circle cx="42.72" cy="245.61" r="1.68" fill="#B4A8AF" opacity="0.6"/>
<circle cx="33.85" cy="247.10" r="2.56" fill="#B4A8AF" opacity="0.6"/>
<circle cx="49.97" cy="226.40" r="1.68" fill="#B8ACB3" opacity="0.6"/>
<circle cx="63.32" cy="233.61" r="2.87" fill="#B4A8AF" opacity="0.6"/>
<circle cx="16.72" cy="231.54" r="3.77" fill="#B4A8AF" opacity="0.6"/>
<circle cx="24.01" cy="229.34" r="1.75" fill="none" stroke="#8A7B85" stroke-width="0.5"/>
<circle cx="7.80" cy="230.68" r="1.71" fill="none" stroke="#8A7B85" stroke-width="0.5"/>
<circle cx="24.58" cy="228.26" r="1.78" fill="none" stroke="#8A7B85" stroke-width="0.5"/>
<circle cx="20.35" cy="228.01" r="1.38" fill="none" stroke="#8A7B85" stroke-width="0.5"/>
<circle cx="47.60" cy="227.41" r="1.25" fill="none" stroke="#8A7B85" stroke-width="0.5"/>
<circle cx="25.99" cy="232.53" r="1.38" fill="none" stroke="#8A7B85" stroke-width="0.5"/>
<circle cx="56.93" cy="227.88" r="1.27" fill="none" stroke="#8A7B85" stroke-width="0.5"/>
<circle cx="44.76" cy="232.89" r="1.40" fill="none" stroke="#8A7B85" stroke-width="0.5"/>
<circle cx="19.54" cy="227.55" r="1.48" fill="none" stroke="#8A7B85" stroke-width="0.5"/>
<circle cx="17.51" cy="232.35" r="1.82" fill="none" stroke="#8A7B85" stroke-width="0.5"/>
<circle cx="17.09" cy="228.65" r="1.79" fill="none" stroke="#8A7B85" stroke-width="0.5"/>
<circle cx="44.27" cy="232.34" r="1.28" fill="none" stroke="#8A7B85" stroke-width="0.5"/>
<circle cx="13.89" cy="228.74" r="1.77" fill="none" stroke="#8A7B85" stroke-width="0.5"/>
<circle cx="22.28" cy="229.12" r="1.36" fill="none" stroke="#8A7B85" stroke-width="0.5"/>
<circle cx="31.09" cy="229.57" r="1.91" fill="none" stroke="#8A7B85" stroke-width="0.5"/>
<circle cx="15.45" cy="226.73" r="1.94" fill="none" stroke="#8A7B85" stroke-width="0.5"/>
<circle cx="58.38" cy="233.61" r="1.38" fill="none" stroke="#8A7B85" stroke-width="0.5"/>
<circle cx="62.54" cy="233.19" r="1.14" fill="none" stroke="#8A7B85" stroke-width="0.5"/>
<circle cx="50.41" cy="232.56" r="1.63" fill="none" stroke="#8A7B85" stroke-width="0.5"/>
<circle cx="36.98" cy="228.72" r="1.28" fill="none" stroke="#8A7B85" stroke-width="0.5"/>
<circle cx="19.69" cy="227.18" r="1.55" fill="none" stroke="#8A7B85" stroke-width="0.5"/>
<circle cx="23.22" cy="232.37" r="0.95" fill="none" stroke="#8A7B85" stroke-width="0.5"/>
<circle cx="59.78" cy="250.65" r="1.92" fill="none" stroke="#8A7B85" stroke-width="0.5"/>
<circle cx="59.37" cy="249.00" r="1.53" fill="none" stroke="#8A7B85" stroke-width="0.5"/>
<circle cx="6.98" cy="250.24" r="1.09" fill="none" stroke="#8A7B85" stroke-width="0.5"/>
<circle cx="23.98" cy="250.90" r="1.48" fill="none" stroke="#8A7B85" stroke-width="0.5"/>
<circle cx="30.74" cy="248.69" r="1.57" fill="none" stroke="#8A7B85" stroke-width="0.5"/>
<circle cx="26.44" cy="254.18" r="1.85" fill="none" stroke="#8A7B85" stroke-width="0.5"/>
<circle cx="34.50" cy="249.94" r="1.29" fill="none" stroke="#8A7B85" stroke-width="0.5"/>
<circle cx="17.90" cy="251.92" r="1.80" fill="none" stroke="#8A7B85" stroke-width="0.5"/>
<rect x="-0.62" y="235.00" width="4.1" height="11.6" rx="2.05" ry="2.9" fill="#D6CDD2" stroke="#544751" stroke-width="1.0"/>
<rect x="5.55" y="235.00" width="4.1" height="11.6" rx="2.05" ry="2.9" fill="#D6CDD2" stroke="#544751" stroke-width="1.0"/>
<rect x="11.72" y="235.00" width="4.1" height="11.6" rx="2.05" ry="2.9" fill="#D6CDD2" stroke="#544751" stroke-width="1.0"/>
<rect x="17.89" y="235.00" width="4.1" height="11.6" rx="2.05" ry="2.9" fill="#D6CDD2" stroke="#544751" stroke-width="1.0"/>
<rect x="24.06" y="235.00" width="4.1" height="11.6" rx="2.05" ry="2.9" fill="#D6CDD2" stroke="#544751" stroke-width="1.0"/>
<rect x="30.23" y="235.00" width="4.1" height="11.6" rx="2.05" ry="2.9" fill="#D6CDD2" stroke="#544751" stroke-width="1.0"/>
<rect x="36.40" y="235.00" width="4.1" height="11.6" rx="2.05" ry="2.9" fill="#D6CDD2" stroke="#544751" stroke-width="1.0"/>
<rect x="42.57" y="235.00" width="4.1" height="11.6" rx="2.05" ry="2.9" fill="#D6CDD2" stroke="#544751" stroke-width="1.0"/>
<rect x="48.74" y="235.00" width="4.1" height="11.6" rx="2.05" ry="2.9" fill="#D6CDD2" stroke="#544751" stroke-width="1.0"/>
<rect x="54.91" y="235.00" width="4.1" height="11.6" rx="2.05" ry="2.9" fill="#D6CDD2" stroke="#544751" stroke-width="1.0"/>
<rect x="61.08" y="235.00" width="4.1" height="11.6" rx="2.05" ry="2.9" fill="#D6CDD2" stroke="#544751" stroke-width="1.0"/>
<rect x="67.25" y="235.00" width="4.1" height="11.6" rx="2.05" ry="2.9" fill="#D6CDD2" stroke="#544751" stroke-width="1.0"/>
</g>
<clipPath id="cp4"><rect x="67.5" y="225.8" width="59.7" height="31.5"/></clipPath>
<rect x="67.5" y="225.8" width="59.7" height="31.5" fill="#AFA2A9"/>
<g clip-path="url(#cp4)">
<circle cx="81.59" cy="229.05" r="2.69" fill="#A3969E" opacity="0.6"/>
<circle cx="72.88" cy="226.42" r="3.15" fill="#B4A8AF" opacity="0.6"/>
<circle cx="115.29" cy="249.90" r="2.17" fill="#B4A8AF" opacity="0.6"/>
<circle cx="84.02" cy="231.24" r="1.82" fill="#A3969E" opacity="0.6"/>
<circle cx="123.79" cy="226.61" r="3.42" fill="#B4A8AF" opacity="0.6"/>
<circle cx="115.29" cy="231.89" r="2.43" fill="#B4A8AF" opacity="0.6"/>
<circle cx="72.68" cy="244.88" r="3.52" fill="#A3969E" opacity="0.6"/>
<circle cx="78.11" cy="240.72" r="1.77" fill="#B4A8AF" opacity="0.6"/>
<circle cx="67.93" cy="235.00" r="3.61" fill="#B4A8AF" opacity="0.6"/>
<circle cx="118.13" cy="241.81" r="2.74" fill="#B4A8AF" opacity="0.6"/>
<circle cx="93.23" cy="230.88" r="2.42" fill="#B8ACB3" opacity="0.6"/>
<circle cx="72.34" cy="240.37" r="4.49" fill="#A79AA2" opacity="0.6"/>
<circle cx="109.34" cy="230.37" r="3.52" fill="#B8ACB3" opacity="0.6"/>
<circle cx="92.14" cy="232.18" r="3.40" fill="#B4A8AF" opacity="0.6"/>
<circle cx="78.47" cy="239.53" r="3.27" fill="#A3969E" opacity="0.6"/>
<circle cx="121.49" cy="228.98" r="1.68" fill="#A3969E" opacity="0.6"/>
<circle cx="84.07" cy="244.14" r="4.09" fill="#B8ACB3" opacity="0.6"/>
<circle cx="87.26" cy="231.39" r="2.88" fill="#B8ACB3" opacity="0.6"/>
<circle cx="88.82" cy="228.40" r="4.39" fill="#B4A8AF" opacity="0.6"/>
<circle cx="111.37" cy="256.04" r="1.55" fill="#B4A8AF" opacity="0.6"/>
<circle cx="86.70" cy="230.62" r="3.46" fill="#B8ACB3" opacity="0.6"/>
<circle cx="85.02" cy="231.83" r="2.83" fill="#A3969E" opacity="0.6"/>
<circle cx="82.43" cy="244.66" r="1.98" fill="#B8ACB3" opacity="0.6"/>
<circle cx="89.19" cy="240.13" r="2.60" fill="#B4A8AF" opacity="0.6"/>
<circle cx="127.03" cy="243.80" r="2.82" fill="#A3969E" opacity="0.6"/>
<circle cx="92.81" cy="232.35" r="1.68" fill="#B8ACB3" opacity="0.6"/>
<circle cx="111.51" cy="244.56" r="4.41" fill="#B8ACB3" opacity="0.6"/>
<circle cx="100.11" cy="244.15" r="2.46" fill="#B8ACB3" opacity="0.6"/>
<circle cx="74.80" cy="242.47" r="3.82" fill="#A79AA2" opacity="0.6"/>
<circle cx="106.40" cy="232.11" r="2.11" fill="#A79AA2" opacity="0.6"/>
<circle cx="92.01" cy="226.96" r="2.76" fill="#A3969E" opacity="0.6"/>
<circle cx="106.15" cy="239.28" r="2.15" fill="#A3969E" opacity="0.6"/>
<circle cx="69.39" cy="233.81" r="2.23" fill="#A3969E" opacity="0.6"/>
<circle cx="113.61" cy="238.94" r="2.29" fill="#B4A8AF" opacity="0.6"/>
<circle cx="70.56" cy="255.03" r="3.20" fill="#A79AA2" opacity="0.6"/>
<circle cx="124.98" cy="231.37" r="1.86" fill="none" stroke="#8A7B85" stroke-width="0.5"/>
<circle cx="110.33" cy="227.08" r="1.33" fill="none" stroke="#8A7B85" stroke-width="0.5"/>
<circle cx="93.18" cy="233.31" r="1.53" fill="none" stroke="#8A7B85" stroke-width="0.5"/>
<circle cx="123.87" cy="227.96" r="1.23" fill="none" stroke="#8A7B85" stroke-width="0.5"/>
<circle cx="95.63" cy="233.10" r="1.25" fill="none" stroke="#8A7B85" stroke-width="0.5"/>
<circle cx="92.57" cy="228.31" r="1.78" fill="none" stroke="#8A7B85" stroke-width="0.5"/>
<circle cx="115.33" cy="229.17" r="1.33" fill="none" stroke="#8A7B85" stroke-width="0.5"/>
<circle cx="97.13" cy="232.81" r="1.21" fill="none" stroke="#8A7B85" stroke-width="0.5"/>
<circle cx="104.98" cy="228.14" r="1.33" fill="none" stroke="#8A7B85" stroke-width="0.5"/>
<circle cx="104.49" cy="232.17" r="1.20" fill="none" stroke="#8A7B85" stroke-width="0.5"/>
<circle cx="118.62" cy="232.89" r="1.66" fill="none" stroke="#8A7B85" stroke-width="0.5"/>
<circle cx="95.24" cy="230.11" r="1.34" fill="none" stroke="#8A7B85" stroke-width="0.5"/>
<circle cx="90.81" cy="232.39" r="1.13" fill="none" stroke="#8A7B85" stroke-width="0.5"/>
<circle cx="76.86" cy="231.07" r="1.18" fill="none" stroke="#8A7B85" stroke-width="0.5"/>
<circle cx="91.13" cy="232.19" r="1.32" fill="none" stroke="#8A7B85" stroke-width="0.5"/>
<circle cx="80.77" cy="227.17" r="1.95" fill="none" stroke="#8A7B85" stroke-width="0.5"/>
<circle cx="77.17" cy="231.06" r="1.80" fill="none" stroke="#8A7B85" stroke-width="0.5"/>
<circle cx="101.07" cy="232.29" r="1.91" fill="none" stroke="#8A7B85" stroke-width="0.5"/>
<circle cx="93.75" cy="227.35" r="1.66" fill="none" stroke="#8A7B85" stroke-width="0.5"/>
<circle cx="74.24" cy="230.73" r="1.18" fill="none" stroke="#8A7B85" stroke-width="0.5"/>
<circle cx="113.71" cy="227.09" r="0.99" fill="none" stroke="#8A7B85" stroke-width="0.5"/>
<circle cx="119.98" cy="233.14" r="1.23" fill="none" stroke="#8A7B85" stroke-width="0.5"/>
<circle cx="88.21" cy="227.32" r="1.96" fill="none" stroke="#8A7B85" stroke-width="0.5"/>
<circle cx="94.59" cy="228.24" r="1.97" fill="none" stroke="#8A7B85" stroke-width="0.5"/>
<circle cx="90.70" cy="232.11" r="1.84" fill="none" stroke="#8A7B85" stroke-width="0.5"/>
<circle cx="91.38" cy="227.34" r="1.91" fill="none" stroke="#8A7B85" stroke-width="0.5"/>
<circle cx="115.16" cy="229.36" r="2.00" fill="none" stroke="#8A7B85" stroke-width="0.5"/>
<circle cx="92.33" cy="231.78" r="1.39" fill="none" stroke="#8A7B85" stroke-width="0.5"/>
<circle cx="105.03" cy="248.77" r="1.60" fill="none" stroke="#8A7B85" stroke-width="0.5"/>
<circle cx="123.01" cy="252.47" r="1.03" fill="none" stroke="#8A7B85" stroke-width="0.5"/>
<circle cx="100.83" cy="253.33" r="1.08" fill="none" stroke="#8A7B85" stroke-width="0.5"/>
<rect x="62.93" y="235.10" width="4.1" height="11.6" rx="2.05" ry="2.9" fill="#D6CDD2" stroke="#544751" stroke-width="1.0"/>
<rect x="68.85" y="235.10" width="4.1" height="11.6" rx="2.05" ry="2.9" fill="#D6CDD2" stroke="#544751" stroke-width="1.0"/>
<rect x="74.77" y="235.10" width="4.1" height="11.6" rx="2.05" ry="2.9" fill="#D6CDD2" stroke="#544751" stroke-width="1.0"/>
<rect x="80.69" y="235.10" width="4.1" height="11.6" rx="2.05" ry="2.9" fill="#D6CDD2" stroke="#544751" stroke-width="1.0"/>
<rect x="86.61" y="235.10" width="4.1" height="11.6" rx="2.05" ry="2.9" fill="#D6CDD2" stroke="#544751" stroke-width="1.0"/>
<rect x="92.53" y="235.10" width="4.1" height="11.6" rx="2.05" ry="2.9" fill="#D6CDD2" stroke="#544751" stroke-width="1.0"/>
<rect x="98.45" y="235.10" width="4.1" height="11.6" rx="2.05" ry="2.9" fill="#D6CDD2" stroke="#544751" stroke-width="1.0"/>
<rect x="104.37" y="235.10" width="4.1" height="11.6" rx="2.05" ry="2.9" fill="#D6CDD2" stroke="#544751" stroke-width="1.0"/>
<rect x="110.29" y="235.10" width="4.1" height="11.6" rx="2.05" ry="2.9" fill="#D6CDD2" stroke="#544751" stroke-width="1.0"/>
<rect x="116.21" y="235.10" width="4.1" height="11.6" rx="2.05" ry="2.9" fill="#D6CDD2" stroke="#544751" stroke-width="1.0"/>
<rect x="122.13" y="235.10" width="4.1" height="11.6" rx="2.05" ry="2.9" fill="#D6CDD2" stroke="#544751" stroke-width="1.0"/>
<rect x="128.05" y="235.10" width="4.1" height="11.6" rx="2.05" ry="2.9" fill="#D6CDD2" stroke="#544751" stroke-width="1.0"/>
</g>
<clipPath id="cp5"><rect x="129.2" y="225.8" width="59.7" height="31.5"/></clipPath>
<rect x="129.2" y="225.8" width="59.7" height="31.5" fill="#AFA2A9"/>
<g clip-path="url(#cp5)">
<circle cx="166.39" cy="249.17" r="3.89" fill="#B8ACB3" opacity="0.6"/>
<circle cx="179.37" cy="250.24" r="2.25" fill="#B8ACB3" opacity="0.6"/>
<circle cx="182.98" cy="229.37" r="2.91" fill="#A3969E" opacity="0.6"/>
<circle cx="151.93" cy="229.01" r="2.25" fill="#A3969E" opacity="0.6"/>
<circle cx="153.57" cy="231.54" r="4.10" fill="#A79AA2" opacity="0.6"/>
<circle cx="138.73" cy="250.91" r="1.92" fill="#A79AA2" opacity="0.6"/>
<circle cx="136.76" cy="225.86" r="4.11" fill="#A3969E" opacity="0.6"/>
<circle cx="175.38" cy="256.04" r="2.00" fill="#A3969E" opacity="0.6"/>
<circle cx="146.47" cy="256.09" r="3.12" fill="#A3969E" opacity="0.6"/>
<circle cx="140.05" cy="256.31" r="2.09" fill="#A79AA2" opacity="0.6"/>
<circle cx="147.04" cy="237.18" r="2.00" fill="#A3969E" opacity="0.6"/>
<circle cx="144.95" cy="236.25" r="3.95" fill="#B8ACB3" opacity="0.6"/>
<circle cx="164.78" cy="248.09" r="1.70" fill="#B4A8AF" opacity="0.6"/>
<circle cx="178.07" cy="240.94" r="2.45" fill="#A79AA2" opacity="0.6"/>
<circle cx="157.41" cy="231.35" r="2.27" fill="#B8ACB3" opacity="0.6"/>
<circle cx="185.87" cy="237.07" r="2.71" fill="#A79AA2" opacity="0.6"/>
<circle cx="151.06" cy="244.02" r="1.53" fill="#B8ACB3" opacity="0.6"/>
<circle cx="171.45" cy="245.45" r="4.36" fill="#B8ACB3" opacity="0.6"/>
<circle cx="174.32" cy="255.08" r="4.33" fill="#B4A8AF" opacity="0.6"/>
<circle cx="159.80" cy="253.92" r="2.25" fill="#A79AA2" opacity="0.6"/>
<circle cx="135.65" cy="249.37" r="3.89" fill="#B4A8AF" opacity="0.6"/>
<circle cx="131.39" cy="255.59" r="1.77" fill="#B4A8AF" opacity="0.6"/>
<circle cx="159.82" cy="237.22" r="1.94" fill="#B4A8AF" opacity="0.6"/>
<circle cx="184.37" cy="242.97" r="2.44" fill="#B4A8AF" opacity="0.6"/>
<circle cx="147.48" cy="250.96" r="3.38" fill="#B4A8AF" opacity="0.6"/>
<circle cx="188.70" cy="230.89" r="1.65" fill="#A79AA2" opacity="0.6"/>
<circle cx="131.10" cy="249.13" r="2.53" fill="#B4A8AF" opacity="0.6"/>
<circle cx="156.40" cy="239.09" r="1.67" fill="#B8ACB3" opacity="0.6"/>
<circle cx="177.06" cy="236.33" r="2.12" fill="#A3969E" opacity="0.6"/>
<circle cx="166.83" cy="250.62" r="1.82" fill="#A79AA2" opacity="0.6"/>
<circle cx="151.47" cy="227.65" r="2.76" fill="#A3969E" opacity="0.6"/>
<circle cx="156.25" cy="257.28" r="4.06" fill="#A79AA2" opacity="0.6"/>
<circle cx="186.52" cy="247.50" r="2.45" fill="#B4A8AF" opacity="0.6"/>
<circle cx="146.57" cy="238.52" r="1.94" fill="#A79AA2" opacity="0.6"/>
<circle cx="178.28" cy="242.55" r="2.04" fill="#A79AA2" opacity="0.6"/>
<circle cx="181.01" cy="228.06" r="1.44" fill="none" stroke="#8A7B85" stroke-width="0.5"/>
<circle cx="159.96" cy="230.64" r="1.45" fill="none" stroke="#8A7B85" stroke-width="0.5"/>
<circle cx="132.97" cy="232.37" r="1.29" fill="none" stroke="#8A7B85" stroke-width="0.5"/>
<circle cx="164.27" cy="227.04" r="1.24" fill="none" stroke="#8A7B85" stroke-width="0.5"/>
<circle cx="162.59" cy="231.48" r="1.82" fill="none" stroke="#8A7B85" stroke-width="0.5"/>
<circle cx="145.01" cy="233.67" r="1.69" fill="none" stroke="#8A7B85" stroke-width="0.5"/>
<circle cx="186.33" cy="229.18" r="1.10" fill="none" stroke="#8A7B85" stroke-width="0.5"/>
<circle cx="180.05" cy="230.12" r="1.75" fill="none" stroke="#8A7B85" stroke-width="0.5"/>
<circle cx="148.66" cy="228.72" r="1.22" fill="none" stroke="#8A7B85" stroke-width="0.5"/>
<circle cx="159.07" cy="231.52" r="1.29" fill="none" stroke="#8A7B85" stroke-width="0.5"/>
<circle cx="145.55" cy="229.22" r="1.93" fill="none" stroke="#8A7B85" stroke-width="0.5"/>
<circle cx="153.59" cy="233.26" r="1.09" fill="none" stroke="#8A7B85" stroke-width="0.5"/>
<circle cx="180.96" cy="229.95" r="1.30" fill="none" stroke="#8A7B85" stroke-width="0.5"/>
<circle cx="149.16" cy="227.79" r="1.98" fill="none" stroke="#8A7B85" stroke-width="0.5"/>
<circle cx="141.06" cy="229.33" r="1.84" fill="none" stroke="#8A7B85" stroke-width="0.5"/>
<circle cx="146.09" cy="227.35" r="1.64" fill="none" stroke="#8A7B85" stroke-width="0.5"/>
<circle cx="154.07" cy="231.12" r="1.93" fill="none" stroke="#8A7B85" stroke-width="0.5"/>
<circle cx="160.03" cy="233.36" r="1.23" fill="none" stroke="#8A7B85" stroke-width="0.5"/>
<circle cx="162.23" cy="232.87" r="1.20" fill="none" stroke="#8A7B85" stroke-width="0.5"/>
<circle cx="188.66" cy="228.17" r="1.55" fill="none" stroke="#8A7B85" stroke-width="0.5"/>
<circle cx="166.46" cy="228.07" r="1.73" fill="none" stroke="#8A7B85" stroke-width="0.5"/>
<circle cx="139.98" cy="231.83" r="1.99" fill="none" stroke="#8A7B85" stroke-width="0.5"/>
<circle cx="187.69" cy="227.96" r="1.88" fill="none" stroke="#8A7B85" stroke-width="0.5"/>
<circle cx="135.82" cy="233.58" r="1.43" fill="none" stroke="#8A7B85" stroke-width="0.5"/>
<circle cx="161.93" cy="229.71" r="1.29" fill="none" stroke="#8A7B85" stroke-width="0.5"/>
<circle cx="168.75" cy="227.30" r="1.12" fill="none" stroke="#8A7B85" stroke-width="0.5"/>
<circle cx="172.07" cy="229.42" r="1.29" fill="none" stroke="#8A7B85" stroke-width="0.5"/>
<circle cx="186.04" cy="232.79" r="1.85" fill="none" stroke="#8A7B85" stroke-width="0.5"/>
<circle cx="170.32" cy="251.92" r="1.96" fill="none" stroke="#8A7B85" stroke-width="0.5"/>
<circle cx="162.03" cy="253.89" r="1.22" fill="none" stroke="#8A7B85" stroke-width="0.5"/>
<circle cx="159.81" cy="248.69" r="1.22" fill="none" stroke="#8A7B85" stroke-width="0.5"/>
<rect x="123.99" y="235.10" width="4.1" height="11.6" rx="2.05" ry="2.9" fill="#D6CDD2" stroke="#544751" stroke-width="1.0"/>
<rect x="130.05" y="235.10" width="4.1" height="11.6" rx="2.05" ry="2.9" fill="#D6CDD2" stroke="#544751" stroke-width="1.0"/>
<rect x="136.11" y="235.10" width="4.1" height="11.6" rx="2.05" ry="2.9" fill="#D6CDD2" stroke="#544751" stroke-width="1.0"/>
<rect x="142.17" y="235.10" width="4.1" height="11.6" rx="2.05" ry="2.9" fill="#D6CDD2" stroke="#544751" stroke-width="1.0"/>
<rect x="148.23" y="235.10" width="4.1" height="11.6" rx="2.05" ry="2.9" fill="#D6CDD2" stroke="#544751" stroke-width="1.0"/>
<rect x="154.29" y="235.10" width="4.1" height="11.6" rx="2.05" ry="2.9" fill="#D6CDD2" stroke="#544751" stroke-width="1.0"/>
<rect x="160.35" y="235.10" width="4.1" height="11.6" rx="2.05" ry="2.9" fill="#D6CDD2" stroke="#544751" stroke-width="1.0"/>
<rect x="166.41" y="235.10" width="4.1" height="11.6" rx="2.05" ry="2.9" fill="#D6CDD2" stroke="#544751" stroke-width="1.0"/>
<rect x="172.47" y="235.10" width="4.1" height="11.6" rx="2.05" ry="2.9" fill="#D6CDD2" stroke="#544751" stroke-width="1.0"/>
<rect x="178.53" y="235.10" width="4.1" height="11.6" rx="2.05" ry="2.9" fill="#D6CDD2" stroke="#544751" stroke-width="1.0"/>
<rect x="184.59" y="235.10" width="4.1" height="11.6" rx="2.05" ry="2.9" fill="#D6CDD2" stroke="#544751" stroke-width="1.0"/>
<rect x="190.65" y="235.10" width="4.1" height="11.6" rx="2.05" ry="2.9" fill="#D6CDD2" stroke="#544751" stroke-width="1.0"/>
</g>
<text x="36.10" y="216.00" font-size="7.8" text-anchor="middle" font-weight="normal" fill="#222" >HBSS</text>
<text x="97.70" y="216.00" font-size="7.9" text-anchor="middle" font-weight="normal" fill="#222" word-spacing="0.5">HSA 1 µM</text>
<text x="36.20" y="267.10" font-size="7.5" text-anchor="middle" font-weight="normal" fill="#222" >0.1 µM</text>
<text x="97.60" y="267.10" font-size="7.5" text-anchor="middle" font-weight="normal" fill="#222" >1.0 µM</text>
<text x="159.10" y="267.10" font-size="7.5" text-anchor="middle" font-weight="normal" fill="#222" >3.0 µM</text>
<line x1="6.80" y1="271.90" x2="186.60" y2="271.90" stroke="#3a3a3a" stroke-width="1.0"/>
<text x="94.30" y="281.60" font-size="7.6" text-anchor="middle" font-weight="normal" fill="#222" >AT</text>
<text x="209.70" y="168.60" font-size="11.2" text-anchor="start" font-weight="bold" fill="#111" >E</text>
<line x1="242.20" y1="175.50" x2="242.20" y2="282.40" stroke="#3a3a3a" stroke-width="1.2"/>
<line x1="241.60" y1="282.00" x2="350.60" y2="282.00" stroke="#3a3a3a" stroke-width="1.2"/>
<line x1="239.60" y1="282.00" x2="242.20" y2="282.00" stroke="#3a3a3a" stroke-width="1.0"/>
<text x="236.50" y="284.70" font-size="7.9" text-anchor="end" font-weight="normal" fill="#222" >0</text>
<line x1="239.60" y1="261.32" x2="242.20" y2="261.32" stroke="#3a3a3a" stroke-width="1.0"/>
<text x="236.50" y="264.02" font-size="7.9" text-anchor="end" font-weight="normal" fill="#222" >10</text>
<line x1="239.60" y1="240.64" x2="242.20" y2="240.64" stroke="#3a3a3a" stroke-width="1.0"/>
<text x="236.50" y="243.34" font-size="7.9" text-anchor="end" font-weight="normal" fill="#222" >20</text>
<line x1="239.60" y1="219.96" x2="242.20" y2="219.96" stroke="#3a3a3a" stroke-width="1.0"/>
<text x="236.50" y="222.66" font-size="7.9" text-anchor="end" font-weight="normal" fill="#222" >30</text>
<line x1="239.60" y1="199.28" x2="242.20" y2="199.28" stroke="#3a3a3a" stroke-width="1.0"/>
<text x="236.50" y="201.98" font-size="7.9" text-anchor="end" font-weight="normal" fill="#222" >40</text>
<line x1="239.60" y1="178.60" x2="242.20" y2="178.60" stroke="#3a3a3a" stroke-width="1.0"/>
<text x="236.50" y="181.30" font-size="7.9" text-anchor="end" font-weight="normal" fill="#222" >50</text>
<rect x="246.45" y="197.21" width="16.5" height="84.79" fill="#C9152F"/>
<line x1="254.70" y1="196.38" x2="254.70" y2="198.04" stroke="#111" stroke-width="0.9"/>
<line x1="249.70" y1="196.38" x2="259.70" y2="196.38" stroke="#111" stroke-width="0.9"/>
<line x1="249.70" y1="198.04" x2="259.70" y2="198.04" stroke="#111" stroke-width="0.9"/>
<circle cx="254.70" cy="196.80" r="1.75" fill="#111"/>
<circle cx="254.70" cy="197.21" r="1.75" fill="#111"/>
<circle cx="254.70" cy="197.63" r="1.75" fill="#111"/>
<line x1="254.70" y1="282.00" x2="254.70" y2="284.60" stroke="#3a3a3a" stroke-width="1.0"/>
<text x="254.70" y="295.10" font-size="7.9" text-anchor="middle" font-weight="normal" fill="#222" >HBSS</text>
<rect x="267.30" y="240.23" width="16.5" height="41.77" fill="#C9152F"/>
<line x1="275.55" y1="229.89" x2="275.55" y2="250.57" stroke="#111" stroke-width="0.9"/>
<line x1="270.55" y1="229.89" x2="280.55" y2="229.89" stroke="#111" stroke-width="0.9"/>
<line x1="270.55" y1="250.57" x2="280.55" y2="250.57" stroke="#111" stroke-width="0.9"/>
<circle cx="275.55" cy="230.30" r="1.75" fill="#111"/>
<circle cx="275.55" cy="231.13" r="1.75" fill="#111"/>
<circle cx="275.55" cy="259.67" r="1.75" fill="#111"/>
<line x1="275.55" y1="282.00" x2="275.55" y2="284.60" stroke="#3a3a3a" stroke-width="1.0"/>
<text x="275.55" y="295.10" font-size="7.9" text-anchor="middle" font-weight="normal" fill="#222" >0.1</text>
<rect x="288.15" y="255.94" width="16.5" height="26.06" fill="#C9152F"/>
<line x1="296.40" y1="246.43" x2="296.40" y2="265.46" stroke="#111" stroke-width="0.9"/>
<line x1="291.40" y1="246.43" x2="301.40" y2="246.43" stroke="#111" stroke-width="0.9"/>
<line x1="291.40" y1="265.46" x2="301.40" y2="265.46" stroke="#111" stroke-width="0.9"/>
<circle cx="296.40" cy="236.50" r="1.75" fill="#111"/>
<circle cx="296.40" cy="261.94" r="1.75" fill="#111"/>
<circle cx="296.40" cy="269.59" r="1.75" fill="#111"/>
<line x1="296.40" y1="282.00" x2="296.40" y2="284.60" stroke="#3a3a3a" stroke-width="1.0"/>
<text x="296.40" y="295.10" font-size="7.9" text-anchor="middle" font-weight="normal" fill="#222" >0.5</text>
<rect x="309.00" y="261.94" width="16.5" height="20.06" fill="#C9152F"/>
<line x1="317.25" y1="259.25" x2="317.25" y2="264.63" stroke="#111" stroke-width="0.9"/>
<line x1="312.25" y1="259.25" x2="322.25" y2="259.25" stroke="#111" stroke-width="0.9"/>
<line x1="312.25" y1="264.63" x2="322.25" y2="264.63" stroke="#111" stroke-width="0.9"/>
<circle cx="317.25" cy="257.60" r="1.75" fill="#111"/>
<circle cx="317.25" cy="263.59" r="1.75" fill="#111"/>
<circle cx="317.25" cy="264.84" r="1.75" fill="#111"/>
<line x1="317.25" y1="282.00" x2="317.25" y2="284.60" stroke="#3a3a3a" stroke-width="1.0"/>
<text x="317.25" y="295.10" font-size="7.9" text-anchor="middle" font-weight="normal" fill="#222" >1</text>
<rect x="329.85" y="267.32" width="16.5" height="14.68" fill="#C9152F"/>
<line x1="338.10" y1="258.22" x2="338.10" y2="276.42" stroke="#111" stroke-width="0.9"/>
<line x1="333.10" y1="258.22" x2="343.10" y2="258.22" stroke="#111" stroke-width="0.9"/>
<line x1="333.10" y1="276.42" x2="343.10" y2="276.42" stroke="#111" stroke-width="0.9"/>
<circle cx="338.10" cy="249.33" r="1.75" fill="#111"/>
<circle cx="338.10" cy="275.18" r="1.75" fill="#111"/>
<circle cx="338.10" cy="276.83" r="1.75" fill="#111"/>
<line x1="338.10" y1="282.00" x2="338.10" y2="284.60" stroke="#3a3a3a" stroke-width="1.0"/>
<text x="338.10" y="295.10" font-size="7.9" text-anchor="middle" font-weight="normal" fill="#222" >3</text>
<line x1="267.60" y1="300.00" x2="346.40" y2="300.00" stroke="#3a3a3a" stroke-width="1.0"/>
<text x="307.20" y="310.20" font-size="7.9" text-anchor="middle" font-weight="normal" fill="#222" >AT (µM)</text>
<text transform="translate(221.3,228.8) rotate(-90) scale(0.75,1)" font-size="8.4" stroke="#222" stroke-width="0.28" text-anchor="middle" fill="#222">Trapping of neutrophils</text>
</svg></div></body></html>
